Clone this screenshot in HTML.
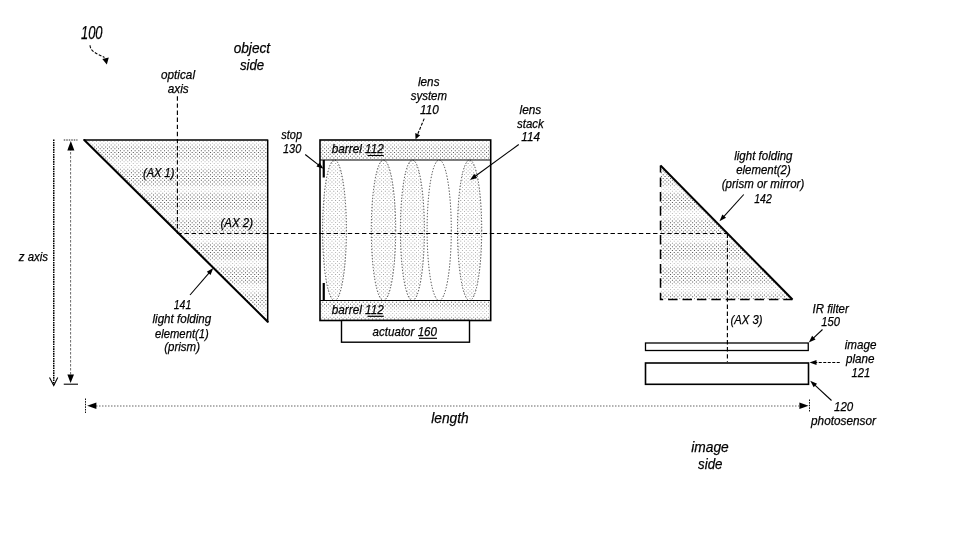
<!DOCTYPE html>
<html><head><meta charset="utf-8"><title>Folded camera diagram</title>
<style>
html,body{margin:0;padding:0;background:#fff;}
body{width:959px;height:536px;overflow:hidden;}
svg{display:block;will-change:transform;}
text{font-family:"Liberation Sans",sans-serif;font-style:italic;fill:#000;}
</style></head><body>
<svg width="959" height="536" viewBox="0 0 959 536">
<defs>
<pattern id="dots" width="92" height="74" patternUnits="userSpaceOnUse"><rect width="92" height="74" fill="#fff"/><path fill="#bcbcbc" d="M2.14 13.25h1.0v1.0h-1.0zM5.82 13.25h1.0v1.0h-1.0zM9.50 13.25h1.0v1.0h-1.0zM13.18 13.25h1.0v1.0h-1.0zM16.86 13.25h1.0v1.0h-1.0zM20.54 13.25h1.0v1.0h-1.0zM24.22 13.25h1.0v1.0h-1.0zM27.90 13.25h1.0v1.0h-1.0zM31.58 13.25h1.0v1.0h-1.0zM35.26 13.25h1.0v1.0h-1.0zM38.94 13.25h1.0v1.0h-1.0zM42.62 13.25h1.0v1.0h-1.0zM46.30 13.25h1.0v1.0h-1.0zM49.98 13.25h1.0v1.0h-1.0zM53.66 13.25h1.0v1.0h-1.0zM57.34 13.25h1.0v1.0h-1.0zM61.02 13.25h1.0v1.0h-1.0zM64.70 13.25h1.0v1.0h-1.0zM68.38 13.25h1.0v1.0h-1.0zM72.06 13.25h1.0v1.0h-1.0zM75.74 13.25h1.0v1.0h-1.0zM79.42 13.25h1.0v1.0h-1.0zM83.10 13.25h1.0v1.0h-1.0zM86.78 13.25h1.0v1.0h-1.0zM90.46 13.25h1.0v1.0h-1.0zM0.30 15.10h1.0v1.0h-1.0zM3.98 15.10h1.0v1.0h-1.0zM7.66 15.10h1.0v1.0h-1.0zM11.34 15.10h1.0v1.0h-1.0zM15.02 15.10h1.0v1.0h-1.0zM18.70 15.10h1.0v1.0h-1.0zM22.38 15.10h1.0v1.0h-1.0zM26.06 15.10h1.0v1.0h-1.0zM29.74 15.10h1.0v1.0h-1.0zM33.42 15.10h1.0v1.0h-1.0zM37.10 15.10h1.0v1.0h-1.0zM40.78 15.10h1.0v1.0h-1.0zM44.46 15.10h1.0v1.0h-1.0zM48.14 15.10h1.0v1.0h-1.0zM51.82 15.10h1.0v1.0h-1.0zM55.50 15.10h1.0v1.0h-1.0zM59.18 15.10h1.0v1.0h-1.0zM62.86 15.10h1.0v1.0h-1.0zM66.54 15.10h1.0v1.0h-1.0zM70.22 15.10h1.0v1.0h-1.0zM73.90 15.10h1.0v1.0h-1.0zM77.58 15.10h1.0v1.0h-1.0zM81.26 15.10h1.0v1.0h-1.0zM84.94 15.10h1.0v1.0h-1.0zM88.62 15.10h1.0v1.0h-1.0zM2.14 16.95h1.0v1.0h-1.0zM5.82 16.95h1.0v1.0h-1.0zM9.50 16.95h1.0v1.0h-1.0zM13.18 16.95h1.0v1.0h-1.0zM16.86 16.95h1.0v1.0h-1.0zM20.54 16.95h1.0v1.0h-1.0zM24.22 16.95h1.0v1.0h-1.0zM27.90 16.95h1.0v1.0h-1.0zM31.58 16.95h1.0v1.0h-1.0zM35.26 16.95h1.0v1.0h-1.0zM38.94 16.95h1.0v1.0h-1.0zM42.62 16.95h1.0v1.0h-1.0zM46.30 16.95h1.0v1.0h-1.0zM49.98 16.95h1.0v1.0h-1.0zM53.66 16.95h1.0v1.0h-1.0zM57.34 16.95h1.0v1.0h-1.0zM61.02 16.95h1.0v1.0h-1.0zM64.70 16.95h1.0v1.0h-1.0zM68.38 16.95h1.0v1.0h-1.0zM72.06 16.95h1.0v1.0h-1.0zM75.74 16.95h1.0v1.0h-1.0zM79.42 16.95h1.0v1.0h-1.0zM83.10 16.95h1.0v1.0h-1.0zM86.78 16.95h1.0v1.0h-1.0zM90.46 16.95h1.0v1.0h-1.0zM0.30 18.80h1.0v1.0h-1.0zM3.98 18.80h1.0v1.0h-1.0zM7.66 18.80h1.0v1.0h-1.0zM11.34 18.80h1.0v1.0h-1.0zM15.02 18.80h1.0v1.0h-1.0zM18.70 18.80h1.0v1.0h-1.0zM22.38 18.80h1.0v1.0h-1.0zM26.06 18.80h1.0v1.0h-1.0zM29.74 18.80h1.0v1.0h-1.0zM33.42 18.80h1.0v1.0h-1.0zM37.10 18.80h1.0v1.0h-1.0zM40.78 18.80h1.0v1.0h-1.0zM44.46 18.80h1.0v1.0h-1.0zM48.14 18.80h1.0v1.0h-1.0zM51.82 18.80h1.0v1.0h-1.0zM55.50 18.80h1.0v1.0h-1.0zM59.18 18.80h1.0v1.0h-1.0zM62.86 18.80h1.0v1.0h-1.0zM66.54 18.80h1.0v1.0h-1.0zM70.22 18.80h1.0v1.0h-1.0zM73.90 18.80h1.0v1.0h-1.0zM77.58 18.80h1.0v1.0h-1.0zM81.26 18.80h1.0v1.0h-1.0zM84.94 18.80h1.0v1.0h-1.0zM88.62 18.80h1.0v1.0h-1.0zM2.14 39.15h1.0v1.0h-1.0zM5.82 39.15h1.0v1.0h-1.0zM9.50 39.15h1.0v1.0h-1.0zM13.18 39.15h1.0v1.0h-1.0zM16.86 39.15h1.0v1.0h-1.0zM20.54 39.15h1.0v1.0h-1.0zM24.22 39.15h1.0v1.0h-1.0zM27.90 39.15h1.0v1.0h-1.0zM31.58 39.15h1.0v1.0h-1.0zM35.26 39.15h1.0v1.0h-1.0zM38.94 39.15h1.0v1.0h-1.0zM42.62 39.15h1.0v1.0h-1.0zM46.30 39.15h1.0v1.0h-1.0zM49.98 39.15h1.0v1.0h-1.0zM53.66 39.15h1.0v1.0h-1.0zM57.34 39.15h1.0v1.0h-1.0zM61.02 39.15h1.0v1.0h-1.0zM64.70 39.15h1.0v1.0h-1.0zM68.38 39.15h1.0v1.0h-1.0zM72.06 39.15h1.0v1.0h-1.0zM75.74 39.15h1.0v1.0h-1.0zM79.42 39.15h1.0v1.0h-1.0zM83.10 39.15h1.0v1.0h-1.0zM86.78 39.15h1.0v1.0h-1.0zM90.46 39.15h1.0v1.0h-1.0zM0.30 41.00h1.0v1.0h-1.0zM3.98 41.00h1.0v1.0h-1.0zM7.66 41.00h1.0v1.0h-1.0zM11.34 41.00h1.0v1.0h-1.0zM15.02 41.00h1.0v1.0h-1.0zM18.70 41.00h1.0v1.0h-1.0zM22.38 41.00h1.0v1.0h-1.0zM26.06 41.00h1.0v1.0h-1.0zM29.74 41.00h1.0v1.0h-1.0zM33.42 41.00h1.0v1.0h-1.0zM37.10 41.00h1.0v1.0h-1.0zM40.78 41.00h1.0v1.0h-1.0zM44.46 41.00h1.0v1.0h-1.0zM48.14 41.00h1.0v1.0h-1.0zM51.82 41.00h1.0v1.0h-1.0zM55.50 41.00h1.0v1.0h-1.0zM59.18 41.00h1.0v1.0h-1.0zM62.86 41.00h1.0v1.0h-1.0zM66.54 41.00h1.0v1.0h-1.0zM70.22 41.00h1.0v1.0h-1.0zM73.90 41.00h1.0v1.0h-1.0zM77.58 41.00h1.0v1.0h-1.0zM81.26 41.00h1.0v1.0h-1.0zM84.94 41.00h1.0v1.0h-1.0zM88.62 41.00h1.0v1.0h-1.0zM2.14 42.85h1.0v1.0h-1.0zM5.82 42.85h1.0v1.0h-1.0zM9.50 42.85h1.0v1.0h-1.0zM13.18 42.85h1.0v1.0h-1.0zM16.86 42.85h1.0v1.0h-1.0zM20.54 42.85h1.0v1.0h-1.0zM24.22 42.85h1.0v1.0h-1.0zM27.90 42.85h1.0v1.0h-1.0zM31.58 42.85h1.0v1.0h-1.0zM35.26 42.85h1.0v1.0h-1.0zM38.94 42.85h1.0v1.0h-1.0zM42.62 42.85h1.0v1.0h-1.0zM46.30 42.85h1.0v1.0h-1.0zM49.98 42.85h1.0v1.0h-1.0zM53.66 42.85h1.0v1.0h-1.0zM57.34 42.85h1.0v1.0h-1.0zM61.02 42.85h1.0v1.0h-1.0zM64.70 42.85h1.0v1.0h-1.0zM68.38 42.85h1.0v1.0h-1.0zM72.06 42.85h1.0v1.0h-1.0zM75.74 42.85h1.0v1.0h-1.0zM79.42 42.85h1.0v1.0h-1.0zM83.10 42.85h1.0v1.0h-1.0zM86.78 42.85h1.0v1.0h-1.0zM90.46 42.85h1.0v1.0h-1.0zM0.30 63.20h1.0v1.0h-1.0zM3.98 63.20h1.0v1.0h-1.0zM7.66 63.20h1.0v1.0h-1.0zM11.34 63.20h1.0v1.0h-1.0zM15.02 63.20h1.0v1.0h-1.0zM18.70 63.20h1.0v1.0h-1.0zM22.38 63.20h1.0v1.0h-1.0zM26.06 63.20h1.0v1.0h-1.0zM29.74 63.20h1.0v1.0h-1.0zM33.42 63.20h1.0v1.0h-1.0zM37.10 63.20h1.0v1.0h-1.0zM40.78 63.20h1.0v1.0h-1.0zM44.46 63.20h1.0v1.0h-1.0zM48.14 63.20h1.0v1.0h-1.0zM51.82 63.20h1.0v1.0h-1.0zM55.50 63.20h1.0v1.0h-1.0zM59.18 63.20h1.0v1.0h-1.0zM62.86 63.20h1.0v1.0h-1.0zM66.54 63.20h1.0v1.0h-1.0zM70.22 63.20h1.0v1.0h-1.0zM73.90 63.20h1.0v1.0h-1.0zM77.58 63.20h1.0v1.0h-1.0zM81.26 63.20h1.0v1.0h-1.0zM84.94 63.20h1.0v1.0h-1.0zM88.62 63.20h1.0v1.0h-1.0zM2.14 65.05h1.0v1.0h-1.0zM5.82 65.05h1.0v1.0h-1.0zM9.50 65.05h1.0v1.0h-1.0zM13.18 65.05h1.0v1.0h-1.0zM16.86 65.05h1.0v1.0h-1.0zM20.54 65.05h1.0v1.0h-1.0zM24.22 65.05h1.0v1.0h-1.0zM27.90 65.05h1.0v1.0h-1.0zM31.58 65.05h1.0v1.0h-1.0zM35.26 65.05h1.0v1.0h-1.0zM38.94 65.05h1.0v1.0h-1.0zM42.62 65.05h1.0v1.0h-1.0zM46.30 65.05h1.0v1.0h-1.0zM49.98 65.05h1.0v1.0h-1.0zM53.66 65.05h1.0v1.0h-1.0zM57.34 65.05h1.0v1.0h-1.0zM61.02 65.05h1.0v1.0h-1.0zM64.70 65.05h1.0v1.0h-1.0zM68.38 65.05h1.0v1.0h-1.0zM72.06 65.05h1.0v1.0h-1.0zM75.74 65.05h1.0v1.0h-1.0zM79.42 65.05h1.0v1.0h-1.0zM83.10 65.05h1.0v1.0h-1.0zM86.78 65.05h1.0v1.0h-1.0zM90.46 65.05h1.0v1.0h-1.0zM0.30 66.90h1.0v1.0h-1.0zM3.98 66.90h1.0v1.0h-1.0zM7.66 66.90h1.0v1.0h-1.0zM11.34 66.90h1.0v1.0h-1.0zM15.02 66.90h1.0v1.0h-1.0zM18.70 66.90h1.0v1.0h-1.0zM22.38 66.90h1.0v1.0h-1.0zM26.06 66.90h1.0v1.0h-1.0zM29.74 66.90h1.0v1.0h-1.0zM33.42 66.90h1.0v1.0h-1.0zM37.10 66.90h1.0v1.0h-1.0zM40.78 66.90h1.0v1.0h-1.0zM44.46 66.90h1.0v1.0h-1.0zM48.14 66.90h1.0v1.0h-1.0zM51.82 66.90h1.0v1.0h-1.0zM55.50 66.90h1.0v1.0h-1.0zM59.18 66.90h1.0v1.0h-1.0zM62.86 66.90h1.0v1.0h-1.0zM66.54 66.90h1.0v1.0h-1.0zM70.22 66.90h1.0v1.0h-1.0zM73.90 66.90h1.0v1.0h-1.0zM77.58 66.90h1.0v1.0h-1.0zM81.26 66.90h1.0v1.0h-1.0zM84.94 66.90h1.0v1.0h-1.0zM88.62 66.90h1.0v1.0h-1.0zM2.14 68.75h1.0v1.0h-1.0zM5.82 68.75h1.0v1.0h-1.0zM9.50 68.75h1.0v1.0h-1.0zM13.18 68.75h1.0v1.0h-1.0zM16.86 68.75h1.0v1.0h-1.0zM20.54 68.75h1.0v1.0h-1.0zM24.22 68.75h1.0v1.0h-1.0zM27.90 68.75h1.0v1.0h-1.0zM31.58 68.75h1.0v1.0h-1.0zM35.26 68.75h1.0v1.0h-1.0zM38.94 68.75h1.0v1.0h-1.0zM42.62 68.75h1.0v1.0h-1.0zM46.30 68.75h1.0v1.0h-1.0zM49.98 68.75h1.0v1.0h-1.0zM53.66 68.75h1.0v1.0h-1.0zM57.34 68.75h1.0v1.0h-1.0zM61.02 68.75h1.0v1.0h-1.0zM64.70 68.75h1.0v1.0h-1.0zM68.38 68.75h1.0v1.0h-1.0zM72.06 68.75h1.0v1.0h-1.0zM75.74 68.75h1.0v1.0h-1.0zM79.42 68.75h1.0v1.0h-1.0zM83.10 68.75h1.0v1.0h-1.0zM86.78 68.75h1.0v1.0h-1.0zM90.46 68.75h1.0v1.0h-1.0z"/><path fill="#8a8a8a" d="M0.30 11.40h1.0v1.0h-1.0zM3.98 11.40h1.0v1.0h-1.0zM7.66 11.40h1.0v1.0h-1.0zM11.34 11.40h1.0v1.0h-1.0zM15.02 11.40h1.0v1.0h-1.0zM18.70 11.40h1.0v1.0h-1.0zM22.38 11.40h1.0v1.0h-1.0zM26.06 11.40h1.0v1.0h-1.0zM29.74 11.40h1.0v1.0h-1.0zM33.42 11.40h1.0v1.0h-1.0zM37.10 11.40h1.0v1.0h-1.0zM40.78 11.40h1.0v1.0h-1.0zM44.46 11.40h1.0v1.0h-1.0zM48.14 11.40h1.0v1.0h-1.0zM51.82 11.40h1.0v1.0h-1.0zM55.50 11.40h1.0v1.0h-1.0zM59.18 11.40h1.0v1.0h-1.0zM62.86 11.40h1.0v1.0h-1.0zM66.54 11.40h1.0v1.0h-1.0zM70.22 11.40h1.0v1.0h-1.0zM73.90 11.40h1.0v1.0h-1.0zM77.58 11.40h1.0v1.0h-1.0zM81.26 11.40h1.0v1.0h-1.0zM84.94 11.40h1.0v1.0h-1.0zM88.62 11.40h1.0v1.0h-1.0zM2.14 20.65h1.0v1.0h-1.0zM5.82 20.65h1.0v1.0h-1.0zM9.50 20.65h1.0v1.0h-1.0zM13.18 20.65h1.0v1.0h-1.0zM16.86 20.65h1.0v1.0h-1.0zM20.54 20.65h1.0v1.0h-1.0zM24.22 20.65h1.0v1.0h-1.0zM27.90 20.65h1.0v1.0h-1.0zM31.58 20.65h1.0v1.0h-1.0zM35.26 20.65h1.0v1.0h-1.0zM38.94 20.65h1.0v1.0h-1.0zM42.62 20.65h1.0v1.0h-1.0zM46.30 20.65h1.0v1.0h-1.0zM49.98 20.65h1.0v1.0h-1.0zM53.66 20.65h1.0v1.0h-1.0zM57.34 20.65h1.0v1.0h-1.0zM61.02 20.65h1.0v1.0h-1.0zM64.70 20.65h1.0v1.0h-1.0zM68.38 20.65h1.0v1.0h-1.0zM72.06 20.65h1.0v1.0h-1.0zM75.74 20.65h1.0v1.0h-1.0zM79.42 20.65h1.0v1.0h-1.0zM83.10 20.65h1.0v1.0h-1.0zM86.78 20.65h1.0v1.0h-1.0zM90.46 20.65h1.0v1.0h-1.0zM0.30 37.30h1.0v1.0h-1.0zM3.98 37.30h1.0v1.0h-1.0zM7.66 37.30h1.0v1.0h-1.0zM11.34 37.30h1.0v1.0h-1.0zM15.02 37.30h1.0v1.0h-1.0zM18.70 37.30h1.0v1.0h-1.0zM22.38 37.30h1.0v1.0h-1.0zM26.06 37.30h1.0v1.0h-1.0zM29.74 37.30h1.0v1.0h-1.0zM33.42 37.30h1.0v1.0h-1.0zM37.10 37.30h1.0v1.0h-1.0zM40.78 37.30h1.0v1.0h-1.0zM44.46 37.30h1.0v1.0h-1.0zM48.14 37.30h1.0v1.0h-1.0zM51.82 37.30h1.0v1.0h-1.0zM55.50 37.30h1.0v1.0h-1.0zM59.18 37.30h1.0v1.0h-1.0zM62.86 37.30h1.0v1.0h-1.0zM66.54 37.30h1.0v1.0h-1.0zM70.22 37.30h1.0v1.0h-1.0zM73.90 37.30h1.0v1.0h-1.0zM77.58 37.30h1.0v1.0h-1.0zM81.26 37.30h1.0v1.0h-1.0zM84.94 37.30h1.0v1.0h-1.0zM88.62 37.30h1.0v1.0h-1.0zM0.30 44.70h1.0v1.0h-1.0zM3.98 44.70h1.0v1.0h-1.0zM7.66 44.70h1.0v1.0h-1.0zM11.34 44.70h1.0v1.0h-1.0zM15.02 44.70h1.0v1.0h-1.0zM18.70 44.70h1.0v1.0h-1.0zM22.38 44.70h1.0v1.0h-1.0zM26.06 44.70h1.0v1.0h-1.0zM29.74 44.70h1.0v1.0h-1.0zM33.42 44.70h1.0v1.0h-1.0zM37.10 44.70h1.0v1.0h-1.0zM40.78 44.70h1.0v1.0h-1.0zM44.46 44.70h1.0v1.0h-1.0zM48.14 44.70h1.0v1.0h-1.0zM51.82 44.70h1.0v1.0h-1.0zM55.50 44.70h1.0v1.0h-1.0zM59.18 44.70h1.0v1.0h-1.0zM62.86 44.70h1.0v1.0h-1.0zM66.54 44.70h1.0v1.0h-1.0zM70.22 44.70h1.0v1.0h-1.0zM73.90 44.70h1.0v1.0h-1.0zM77.58 44.70h1.0v1.0h-1.0zM81.26 44.70h1.0v1.0h-1.0zM84.94 44.70h1.0v1.0h-1.0zM88.62 44.70h1.0v1.0h-1.0zM2.14 61.35h1.0v1.0h-1.0zM5.82 61.35h1.0v1.0h-1.0zM9.50 61.35h1.0v1.0h-1.0zM13.18 61.35h1.0v1.0h-1.0zM16.86 61.35h1.0v1.0h-1.0zM20.54 61.35h1.0v1.0h-1.0zM24.22 61.35h1.0v1.0h-1.0zM27.90 61.35h1.0v1.0h-1.0zM31.58 61.35h1.0v1.0h-1.0zM35.26 61.35h1.0v1.0h-1.0zM38.94 61.35h1.0v1.0h-1.0zM42.62 61.35h1.0v1.0h-1.0zM46.30 61.35h1.0v1.0h-1.0zM49.98 61.35h1.0v1.0h-1.0zM53.66 61.35h1.0v1.0h-1.0zM57.34 61.35h1.0v1.0h-1.0zM61.02 61.35h1.0v1.0h-1.0zM64.70 61.35h1.0v1.0h-1.0zM68.38 61.35h1.0v1.0h-1.0zM72.06 61.35h1.0v1.0h-1.0zM75.74 61.35h1.0v1.0h-1.0zM79.42 61.35h1.0v1.0h-1.0zM83.10 61.35h1.0v1.0h-1.0zM86.78 61.35h1.0v1.0h-1.0zM90.46 61.35h1.0v1.0h-1.0zM0.30 70.60h1.0v1.0h-1.0zM3.98 70.60h1.0v1.0h-1.0zM7.66 70.60h1.0v1.0h-1.0zM11.34 70.60h1.0v1.0h-1.0zM15.02 70.60h1.0v1.0h-1.0zM18.70 70.60h1.0v1.0h-1.0zM22.38 70.60h1.0v1.0h-1.0zM26.06 70.60h1.0v1.0h-1.0zM29.74 70.60h1.0v1.0h-1.0zM33.42 70.60h1.0v1.0h-1.0zM37.10 70.60h1.0v1.0h-1.0zM40.78 70.60h1.0v1.0h-1.0zM44.46 70.60h1.0v1.0h-1.0zM48.14 70.60h1.0v1.0h-1.0zM51.82 70.60h1.0v1.0h-1.0zM55.50 70.60h1.0v1.0h-1.0zM59.18 70.60h1.0v1.0h-1.0zM62.86 70.60h1.0v1.0h-1.0zM66.54 70.60h1.0v1.0h-1.0zM70.22 70.60h1.0v1.0h-1.0zM73.90 70.60h1.0v1.0h-1.0zM77.58 70.60h1.0v1.0h-1.0zM81.26 70.60h1.0v1.0h-1.0zM84.94 70.60h1.0v1.0h-1.0zM88.62 70.60h1.0v1.0h-1.0z"/><path fill="#505050" d="M0.30 0.30h1.0v1.0h-1.0zM3.98 0.30h1.0v1.0h-1.0zM7.66 0.30h1.0v1.0h-1.0zM11.34 0.30h1.0v1.0h-1.0zM15.02 0.30h1.0v1.0h-1.0zM18.70 0.30h1.0v1.0h-1.0zM22.38 0.30h1.0v1.0h-1.0zM26.06 0.30h1.0v1.0h-1.0zM29.74 0.30h1.0v1.0h-1.0zM33.42 0.30h1.0v1.0h-1.0zM37.10 0.30h1.0v1.0h-1.0zM40.78 0.30h1.0v1.0h-1.0zM44.46 0.30h1.0v1.0h-1.0zM48.14 0.30h1.0v1.0h-1.0zM51.82 0.30h1.0v1.0h-1.0zM55.50 0.30h1.0v1.0h-1.0zM59.18 0.30h1.0v1.0h-1.0zM62.86 0.30h1.0v1.0h-1.0zM66.54 0.30h1.0v1.0h-1.0zM70.22 0.30h1.0v1.0h-1.0zM73.90 0.30h1.0v1.0h-1.0zM77.58 0.30h1.0v1.0h-1.0zM81.26 0.30h1.0v1.0h-1.0zM84.94 0.30h1.0v1.0h-1.0zM88.62 0.30h1.0v1.0h-1.0zM2.14 2.15h1.0v1.0h-1.0zM5.82 2.15h1.0v1.0h-1.0zM9.50 2.15h1.0v1.0h-1.0zM13.18 2.15h1.0v1.0h-1.0zM16.86 2.15h1.0v1.0h-1.0zM20.54 2.15h1.0v1.0h-1.0zM24.22 2.15h1.0v1.0h-1.0zM27.90 2.15h1.0v1.0h-1.0zM31.58 2.15h1.0v1.0h-1.0zM35.26 2.15h1.0v1.0h-1.0zM38.94 2.15h1.0v1.0h-1.0zM42.62 2.15h1.0v1.0h-1.0zM46.30 2.15h1.0v1.0h-1.0zM49.98 2.15h1.0v1.0h-1.0zM53.66 2.15h1.0v1.0h-1.0zM57.34 2.15h1.0v1.0h-1.0zM61.02 2.15h1.0v1.0h-1.0zM64.70 2.15h1.0v1.0h-1.0zM68.38 2.15h1.0v1.0h-1.0zM72.06 2.15h1.0v1.0h-1.0zM75.74 2.15h1.0v1.0h-1.0zM79.42 2.15h1.0v1.0h-1.0zM83.10 2.15h1.0v1.0h-1.0zM86.78 2.15h1.0v1.0h-1.0zM90.46 2.15h1.0v1.0h-1.0zM0.30 4.00h1.0v1.0h-1.0zM3.98 4.00h1.0v1.0h-1.0zM7.66 4.00h1.0v1.0h-1.0zM11.34 4.00h1.0v1.0h-1.0zM15.02 4.00h1.0v1.0h-1.0zM18.70 4.00h1.0v1.0h-1.0zM22.38 4.00h1.0v1.0h-1.0zM26.06 4.00h1.0v1.0h-1.0zM29.74 4.00h1.0v1.0h-1.0zM33.42 4.00h1.0v1.0h-1.0zM37.10 4.00h1.0v1.0h-1.0zM40.78 4.00h1.0v1.0h-1.0zM44.46 4.00h1.0v1.0h-1.0zM48.14 4.00h1.0v1.0h-1.0zM51.82 4.00h1.0v1.0h-1.0zM55.50 4.00h1.0v1.0h-1.0zM59.18 4.00h1.0v1.0h-1.0zM62.86 4.00h1.0v1.0h-1.0zM66.54 4.00h1.0v1.0h-1.0zM70.22 4.00h1.0v1.0h-1.0zM73.90 4.00h1.0v1.0h-1.0zM77.58 4.00h1.0v1.0h-1.0zM81.26 4.00h1.0v1.0h-1.0zM84.94 4.00h1.0v1.0h-1.0zM88.62 4.00h1.0v1.0h-1.0zM2.14 5.85h1.0v1.0h-1.0zM5.82 5.85h1.0v1.0h-1.0zM9.50 5.85h1.0v1.0h-1.0zM13.18 5.85h1.0v1.0h-1.0zM16.86 5.85h1.0v1.0h-1.0zM20.54 5.85h1.0v1.0h-1.0zM24.22 5.85h1.0v1.0h-1.0zM27.90 5.85h1.0v1.0h-1.0zM31.58 5.85h1.0v1.0h-1.0zM35.26 5.85h1.0v1.0h-1.0zM38.94 5.85h1.0v1.0h-1.0zM42.62 5.85h1.0v1.0h-1.0zM46.30 5.85h1.0v1.0h-1.0zM49.98 5.85h1.0v1.0h-1.0zM53.66 5.85h1.0v1.0h-1.0zM57.34 5.85h1.0v1.0h-1.0zM61.02 5.85h1.0v1.0h-1.0zM64.70 5.85h1.0v1.0h-1.0zM68.38 5.85h1.0v1.0h-1.0zM72.06 5.85h1.0v1.0h-1.0zM75.74 5.85h1.0v1.0h-1.0zM79.42 5.85h1.0v1.0h-1.0zM83.10 5.85h1.0v1.0h-1.0zM86.78 5.85h1.0v1.0h-1.0zM90.46 5.85h1.0v1.0h-1.0zM0.30 7.70h1.0v1.0h-1.0zM3.98 7.70h1.0v1.0h-1.0zM7.66 7.70h1.0v1.0h-1.0zM11.34 7.70h1.0v1.0h-1.0zM15.02 7.70h1.0v1.0h-1.0zM18.70 7.70h1.0v1.0h-1.0zM22.38 7.70h1.0v1.0h-1.0zM26.06 7.70h1.0v1.0h-1.0zM29.74 7.70h1.0v1.0h-1.0zM33.42 7.70h1.0v1.0h-1.0zM37.10 7.70h1.0v1.0h-1.0zM40.78 7.70h1.0v1.0h-1.0zM44.46 7.70h1.0v1.0h-1.0zM48.14 7.70h1.0v1.0h-1.0zM51.82 7.70h1.0v1.0h-1.0zM55.50 7.70h1.0v1.0h-1.0zM59.18 7.70h1.0v1.0h-1.0zM62.86 7.70h1.0v1.0h-1.0zM66.54 7.70h1.0v1.0h-1.0zM70.22 7.70h1.0v1.0h-1.0zM73.90 7.70h1.0v1.0h-1.0zM77.58 7.70h1.0v1.0h-1.0zM81.26 7.70h1.0v1.0h-1.0zM84.94 7.70h1.0v1.0h-1.0zM88.62 7.70h1.0v1.0h-1.0zM2.14 9.55h1.0v1.0h-1.0zM5.82 9.55h1.0v1.0h-1.0zM9.50 9.55h1.0v1.0h-1.0zM13.18 9.55h1.0v1.0h-1.0zM16.86 9.55h1.0v1.0h-1.0zM20.54 9.55h1.0v1.0h-1.0zM24.22 9.55h1.0v1.0h-1.0zM27.90 9.55h1.0v1.0h-1.0zM31.58 9.55h1.0v1.0h-1.0zM35.26 9.55h1.0v1.0h-1.0zM38.94 9.55h1.0v1.0h-1.0zM42.62 9.55h1.0v1.0h-1.0zM46.30 9.55h1.0v1.0h-1.0zM49.98 9.55h1.0v1.0h-1.0zM53.66 9.55h1.0v1.0h-1.0zM57.34 9.55h1.0v1.0h-1.0zM61.02 9.55h1.0v1.0h-1.0zM64.70 9.55h1.0v1.0h-1.0zM68.38 9.55h1.0v1.0h-1.0zM72.06 9.55h1.0v1.0h-1.0zM75.74 9.55h1.0v1.0h-1.0zM79.42 9.55h1.0v1.0h-1.0zM83.10 9.55h1.0v1.0h-1.0zM86.78 9.55h1.0v1.0h-1.0zM90.46 9.55h1.0v1.0h-1.0zM0.30 22.50h1.0v1.0h-1.0zM3.98 22.50h1.0v1.0h-1.0zM7.66 22.50h1.0v1.0h-1.0zM11.34 22.50h1.0v1.0h-1.0zM15.02 22.50h1.0v1.0h-1.0zM18.70 22.50h1.0v1.0h-1.0zM22.38 22.50h1.0v1.0h-1.0zM26.06 22.50h1.0v1.0h-1.0zM29.74 22.50h1.0v1.0h-1.0zM33.42 22.50h1.0v1.0h-1.0zM37.10 22.50h1.0v1.0h-1.0zM40.78 22.50h1.0v1.0h-1.0zM44.46 22.50h1.0v1.0h-1.0zM48.14 22.50h1.0v1.0h-1.0zM51.82 22.50h1.0v1.0h-1.0zM55.50 22.50h1.0v1.0h-1.0zM59.18 22.50h1.0v1.0h-1.0zM62.86 22.50h1.0v1.0h-1.0zM66.54 22.50h1.0v1.0h-1.0zM70.22 22.50h1.0v1.0h-1.0zM73.90 22.50h1.0v1.0h-1.0zM77.58 22.50h1.0v1.0h-1.0zM81.26 22.50h1.0v1.0h-1.0zM84.94 22.50h1.0v1.0h-1.0zM88.62 22.50h1.0v1.0h-1.0zM2.14 24.35h1.0v1.0h-1.0zM5.82 24.35h1.0v1.0h-1.0zM9.50 24.35h1.0v1.0h-1.0zM13.18 24.35h1.0v1.0h-1.0zM16.86 24.35h1.0v1.0h-1.0zM20.54 24.35h1.0v1.0h-1.0zM24.22 24.35h1.0v1.0h-1.0zM27.90 24.35h1.0v1.0h-1.0zM31.58 24.35h1.0v1.0h-1.0zM35.26 24.35h1.0v1.0h-1.0zM38.94 24.35h1.0v1.0h-1.0zM42.62 24.35h1.0v1.0h-1.0zM46.30 24.35h1.0v1.0h-1.0zM49.98 24.35h1.0v1.0h-1.0zM53.66 24.35h1.0v1.0h-1.0zM57.34 24.35h1.0v1.0h-1.0zM61.02 24.35h1.0v1.0h-1.0zM64.70 24.35h1.0v1.0h-1.0zM68.38 24.35h1.0v1.0h-1.0zM72.06 24.35h1.0v1.0h-1.0zM75.74 24.35h1.0v1.0h-1.0zM79.42 24.35h1.0v1.0h-1.0zM83.10 24.35h1.0v1.0h-1.0zM86.78 24.35h1.0v1.0h-1.0zM90.46 24.35h1.0v1.0h-1.0zM0.30 26.20h1.0v1.0h-1.0zM3.98 26.20h1.0v1.0h-1.0zM7.66 26.20h1.0v1.0h-1.0zM11.34 26.20h1.0v1.0h-1.0zM15.02 26.20h1.0v1.0h-1.0zM18.70 26.20h1.0v1.0h-1.0zM22.38 26.20h1.0v1.0h-1.0zM26.06 26.20h1.0v1.0h-1.0zM29.74 26.20h1.0v1.0h-1.0zM33.42 26.20h1.0v1.0h-1.0zM37.10 26.20h1.0v1.0h-1.0zM40.78 26.20h1.0v1.0h-1.0zM44.46 26.20h1.0v1.0h-1.0zM48.14 26.20h1.0v1.0h-1.0zM51.82 26.20h1.0v1.0h-1.0zM55.50 26.20h1.0v1.0h-1.0zM59.18 26.20h1.0v1.0h-1.0zM62.86 26.20h1.0v1.0h-1.0zM66.54 26.20h1.0v1.0h-1.0zM70.22 26.20h1.0v1.0h-1.0zM73.90 26.20h1.0v1.0h-1.0zM77.58 26.20h1.0v1.0h-1.0zM81.26 26.20h1.0v1.0h-1.0zM84.94 26.20h1.0v1.0h-1.0zM88.62 26.20h1.0v1.0h-1.0zM2.14 28.05h1.0v1.0h-1.0zM5.82 28.05h1.0v1.0h-1.0zM9.50 28.05h1.0v1.0h-1.0zM13.18 28.05h1.0v1.0h-1.0zM16.86 28.05h1.0v1.0h-1.0zM20.54 28.05h1.0v1.0h-1.0zM24.22 28.05h1.0v1.0h-1.0zM27.90 28.05h1.0v1.0h-1.0zM31.58 28.05h1.0v1.0h-1.0zM35.26 28.05h1.0v1.0h-1.0zM38.94 28.05h1.0v1.0h-1.0zM42.62 28.05h1.0v1.0h-1.0zM46.30 28.05h1.0v1.0h-1.0zM49.98 28.05h1.0v1.0h-1.0zM53.66 28.05h1.0v1.0h-1.0zM57.34 28.05h1.0v1.0h-1.0zM61.02 28.05h1.0v1.0h-1.0zM64.70 28.05h1.0v1.0h-1.0zM68.38 28.05h1.0v1.0h-1.0zM72.06 28.05h1.0v1.0h-1.0zM75.74 28.05h1.0v1.0h-1.0zM79.42 28.05h1.0v1.0h-1.0zM83.10 28.05h1.0v1.0h-1.0zM86.78 28.05h1.0v1.0h-1.0zM90.46 28.05h1.0v1.0h-1.0zM0.30 29.90h1.0v1.0h-1.0zM3.98 29.90h1.0v1.0h-1.0zM7.66 29.90h1.0v1.0h-1.0zM11.34 29.90h1.0v1.0h-1.0zM15.02 29.90h1.0v1.0h-1.0zM18.70 29.90h1.0v1.0h-1.0zM22.38 29.90h1.0v1.0h-1.0zM26.06 29.90h1.0v1.0h-1.0zM29.74 29.90h1.0v1.0h-1.0zM33.42 29.90h1.0v1.0h-1.0zM37.10 29.90h1.0v1.0h-1.0zM40.78 29.90h1.0v1.0h-1.0zM44.46 29.90h1.0v1.0h-1.0zM48.14 29.90h1.0v1.0h-1.0zM51.82 29.90h1.0v1.0h-1.0zM55.50 29.90h1.0v1.0h-1.0zM59.18 29.90h1.0v1.0h-1.0zM62.86 29.90h1.0v1.0h-1.0zM66.54 29.90h1.0v1.0h-1.0zM70.22 29.90h1.0v1.0h-1.0zM73.90 29.90h1.0v1.0h-1.0zM77.58 29.90h1.0v1.0h-1.0zM81.26 29.90h1.0v1.0h-1.0zM84.94 29.90h1.0v1.0h-1.0zM88.62 29.90h1.0v1.0h-1.0zM2.14 31.75h1.0v1.0h-1.0zM5.82 31.75h1.0v1.0h-1.0zM9.50 31.75h1.0v1.0h-1.0zM13.18 31.75h1.0v1.0h-1.0zM16.86 31.75h1.0v1.0h-1.0zM20.54 31.75h1.0v1.0h-1.0zM24.22 31.75h1.0v1.0h-1.0zM27.90 31.75h1.0v1.0h-1.0zM31.58 31.75h1.0v1.0h-1.0zM35.26 31.75h1.0v1.0h-1.0zM38.94 31.75h1.0v1.0h-1.0zM42.62 31.75h1.0v1.0h-1.0zM46.30 31.75h1.0v1.0h-1.0zM49.98 31.75h1.0v1.0h-1.0zM53.66 31.75h1.0v1.0h-1.0zM57.34 31.75h1.0v1.0h-1.0zM61.02 31.75h1.0v1.0h-1.0zM64.70 31.75h1.0v1.0h-1.0zM68.38 31.75h1.0v1.0h-1.0zM72.06 31.75h1.0v1.0h-1.0zM75.74 31.75h1.0v1.0h-1.0zM79.42 31.75h1.0v1.0h-1.0zM83.10 31.75h1.0v1.0h-1.0zM86.78 31.75h1.0v1.0h-1.0zM90.46 31.75h1.0v1.0h-1.0zM0.30 33.60h1.0v1.0h-1.0zM3.98 33.60h1.0v1.0h-1.0zM7.66 33.60h1.0v1.0h-1.0zM11.34 33.60h1.0v1.0h-1.0zM15.02 33.60h1.0v1.0h-1.0zM18.70 33.60h1.0v1.0h-1.0zM22.38 33.60h1.0v1.0h-1.0zM26.06 33.60h1.0v1.0h-1.0zM29.74 33.60h1.0v1.0h-1.0zM33.42 33.60h1.0v1.0h-1.0zM37.10 33.60h1.0v1.0h-1.0zM40.78 33.60h1.0v1.0h-1.0zM44.46 33.60h1.0v1.0h-1.0zM48.14 33.60h1.0v1.0h-1.0zM51.82 33.60h1.0v1.0h-1.0zM55.50 33.60h1.0v1.0h-1.0zM59.18 33.60h1.0v1.0h-1.0zM62.86 33.60h1.0v1.0h-1.0zM66.54 33.60h1.0v1.0h-1.0zM70.22 33.60h1.0v1.0h-1.0zM73.90 33.60h1.0v1.0h-1.0zM77.58 33.60h1.0v1.0h-1.0zM81.26 33.60h1.0v1.0h-1.0zM84.94 33.60h1.0v1.0h-1.0zM88.62 33.60h1.0v1.0h-1.0zM2.14 35.45h1.0v1.0h-1.0zM5.82 35.45h1.0v1.0h-1.0zM9.50 35.45h1.0v1.0h-1.0zM13.18 35.45h1.0v1.0h-1.0zM16.86 35.45h1.0v1.0h-1.0zM20.54 35.45h1.0v1.0h-1.0zM24.22 35.45h1.0v1.0h-1.0zM27.90 35.45h1.0v1.0h-1.0zM31.58 35.45h1.0v1.0h-1.0zM35.26 35.45h1.0v1.0h-1.0zM38.94 35.45h1.0v1.0h-1.0zM42.62 35.45h1.0v1.0h-1.0zM46.30 35.45h1.0v1.0h-1.0zM49.98 35.45h1.0v1.0h-1.0zM53.66 35.45h1.0v1.0h-1.0zM57.34 35.45h1.0v1.0h-1.0zM61.02 35.45h1.0v1.0h-1.0zM64.70 35.45h1.0v1.0h-1.0zM68.38 35.45h1.0v1.0h-1.0zM72.06 35.45h1.0v1.0h-1.0zM75.74 35.45h1.0v1.0h-1.0zM79.42 35.45h1.0v1.0h-1.0zM83.10 35.45h1.0v1.0h-1.0zM86.78 35.45h1.0v1.0h-1.0zM90.46 35.45h1.0v1.0h-1.0zM2.14 46.55h1.0v1.0h-1.0zM5.82 46.55h1.0v1.0h-1.0zM9.50 46.55h1.0v1.0h-1.0zM13.18 46.55h1.0v1.0h-1.0zM16.86 46.55h1.0v1.0h-1.0zM20.54 46.55h1.0v1.0h-1.0zM24.22 46.55h1.0v1.0h-1.0zM27.90 46.55h1.0v1.0h-1.0zM31.58 46.55h1.0v1.0h-1.0zM35.26 46.55h1.0v1.0h-1.0zM38.94 46.55h1.0v1.0h-1.0zM42.62 46.55h1.0v1.0h-1.0zM46.30 46.55h1.0v1.0h-1.0zM49.98 46.55h1.0v1.0h-1.0zM53.66 46.55h1.0v1.0h-1.0zM57.34 46.55h1.0v1.0h-1.0zM61.02 46.55h1.0v1.0h-1.0zM64.70 46.55h1.0v1.0h-1.0zM68.38 46.55h1.0v1.0h-1.0zM72.06 46.55h1.0v1.0h-1.0zM75.74 46.55h1.0v1.0h-1.0zM79.42 46.55h1.0v1.0h-1.0zM83.10 46.55h1.0v1.0h-1.0zM86.78 46.55h1.0v1.0h-1.0zM90.46 46.55h1.0v1.0h-1.0zM0.30 48.40h1.0v1.0h-1.0zM3.98 48.40h1.0v1.0h-1.0zM7.66 48.40h1.0v1.0h-1.0zM11.34 48.40h1.0v1.0h-1.0zM15.02 48.40h1.0v1.0h-1.0zM18.70 48.40h1.0v1.0h-1.0zM22.38 48.40h1.0v1.0h-1.0zM26.06 48.40h1.0v1.0h-1.0zM29.74 48.40h1.0v1.0h-1.0zM33.42 48.40h1.0v1.0h-1.0zM37.10 48.40h1.0v1.0h-1.0zM40.78 48.40h1.0v1.0h-1.0zM44.46 48.40h1.0v1.0h-1.0zM48.14 48.40h1.0v1.0h-1.0zM51.82 48.40h1.0v1.0h-1.0zM55.50 48.40h1.0v1.0h-1.0zM59.18 48.40h1.0v1.0h-1.0zM62.86 48.40h1.0v1.0h-1.0zM66.54 48.40h1.0v1.0h-1.0zM70.22 48.40h1.0v1.0h-1.0zM73.90 48.40h1.0v1.0h-1.0zM77.58 48.40h1.0v1.0h-1.0zM81.26 48.40h1.0v1.0h-1.0zM84.94 48.40h1.0v1.0h-1.0zM88.62 48.40h1.0v1.0h-1.0zM2.14 50.25h1.0v1.0h-1.0zM5.82 50.25h1.0v1.0h-1.0zM9.50 50.25h1.0v1.0h-1.0zM13.18 50.25h1.0v1.0h-1.0zM16.86 50.25h1.0v1.0h-1.0zM20.54 50.25h1.0v1.0h-1.0zM24.22 50.25h1.0v1.0h-1.0zM27.90 50.25h1.0v1.0h-1.0zM31.58 50.25h1.0v1.0h-1.0zM35.26 50.25h1.0v1.0h-1.0zM38.94 50.25h1.0v1.0h-1.0zM42.62 50.25h1.0v1.0h-1.0zM46.30 50.25h1.0v1.0h-1.0zM49.98 50.25h1.0v1.0h-1.0zM53.66 50.25h1.0v1.0h-1.0zM57.34 50.25h1.0v1.0h-1.0zM61.02 50.25h1.0v1.0h-1.0zM64.70 50.25h1.0v1.0h-1.0zM68.38 50.25h1.0v1.0h-1.0zM72.06 50.25h1.0v1.0h-1.0zM75.74 50.25h1.0v1.0h-1.0zM79.42 50.25h1.0v1.0h-1.0zM83.10 50.25h1.0v1.0h-1.0zM86.78 50.25h1.0v1.0h-1.0zM90.46 50.25h1.0v1.0h-1.0zM0.30 52.10h1.0v1.0h-1.0zM3.98 52.10h1.0v1.0h-1.0zM7.66 52.10h1.0v1.0h-1.0zM11.34 52.10h1.0v1.0h-1.0zM15.02 52.10h1.0v1.0h-1.0zM18.70 52.10h1.0v1.0h-1.0zM22.38 52.10h1.0v1.0h-1.0zM26.06 52.10h1.0v1.0h-1.0zM29.74 52.10h1.0v1.0h-1.0zM33.42 52.10h1.0v1.0h-1.0zM37.10 52.10h1.0v1.0h-1.0zM40.78 52.10h1.0v1.0h-1.0zM44.46 52.10h1.0v1.0h-1.0zM48.14 52.10h1.0v1.0h-1.0zM51.82 52.10h1.0v1.0h-1.0zM55.50 52.10h1.0v1.0h-1.0zM59.18 52.10h1.0v1.0h-1.0zM62.86 52.10h1.0v1.0h-1.0zM66.54 52.10h1.0v1.0h-1.0zM70.22 52.10h1.0v1.0h-1.0zM73.90 52.10h1.0v1.0h-1.0zM77.58 52.10h1.0v1.0h-1.0zM81.26 52.10h1.0v1.0h-1.0zM84.94 52.10h1.0v1.0h-1.0zM88.62 52.10h1.0v1.0h-1.0zM2.14 53.95h1.0v1.0h-1.0zM5.82 53.95h1.0v1.0h-1.0zM9.50 53.95h1.0v1.0h-1.0zM13.18 53.95h1.0v1.0h-1.0zM16.86 53.95h1.0v1.0h-1.0zM20.54 53.95h1.0v1.0h-1.0zM24.22 53.95h1.0v1.0h-1.0zM27.90 53.95h1.0v1.0h-1.0zM31.58 53.95h1.0v1.0h-1.0zM35.26 53.95h1.0v1.0h-1.0zM38.94 53.95h1.0v1.0h-1.0zM42.62 53.95h1.0v1.0h-1.0zM46.30 53.95h1.0v1.0h-1.0zM49.98 53.95h1.0v1.0h-1.0zM53.66 53.95h1.0v1.0h-1.0zM57.34 53.95h1.0v1.0h-1.0zM61.02 53.95h1.0v1.0h-1.0zM64.70 53.95h1.0v1.0h-1.0zM68.38 53.95h1.0v1.0h-1.0zM72.06 53.95h1.0v1.0h-1.0zM75.74 53.95h1.0v1.0h-1.0zM79.42 53.95h1.0v1.0h-1.0zM83.10 53.95h1.0v1.0h-1.0zM86.78 53.95h1.0v1.0h-1.0zM90.46 53.95h1.0v1.0h-1.0zM0.30 55.80h1.0v1.0h-1.0zM3.98 55.80h1.0v1.0h-1.0zM7.66 55.80h1.0v1.0h-1.0zM11.34 55.80h1.0v1.0h-1.0zM15.02 55.80h1.0v1.0h-1.0zM18.70 55.80h1.0v1.0h-1.0zM22.38 55.80h1.0v1.0h-1.0zM26.06 55.80h1.0v1.0h-1.0zM29.74 55.80h1.0v1.0h-1.0zM33.42 55.80h1.0v1.0h-1.0zM37.10 55.80h1.0v1.0h-1.0zM40.78 55.80h1.0v1.0h-1.0zM44.46 55.80h1.0v1.0h-1.0zM48.14 55.80h1.0v1.0h-1.0zM51.82 55.80h1.0v1.0h-1.0zM55.50 55.80h1.0v1.0h-1.0zM59.18 55.80h1.0v1.0h-1.0zM62.86 55.80h1.0v1.0h-1.0zM66.54 55.80h1.0v1.0h-1.0zM70.22 55.80h1.0v1.0h-1.0zM73.90 55.80h1.0v1.0h-1.0zM77.58 55.80h1.0v1.0h-1.0zM81.26 55.80h1.0v1.0h-1.0zM84.94 55.80h1.0v1.0h-1.0zM88.62 55.80h1.0v1.0h-1.0zM2.14 57.65h1.0v1.0h-1.0zM5.82 57.65h1.0v1.0h-1.0zM9.50 57.65h1.0v1.0h-1.0zM13.18 57.65h1.0v1.0h-1.0zM16.86 57.65h1.0v1.0h-1.0zM20.54 57.65h1.0v1.0h-1.0zM24.22 57.65h1.0v1.0h-1.0zM27.90 57.65h1.0v1.0h-1.0zM31.58 57.65h1.0v1.0h-1.0zM35.26 57.65h1.0v1.0h-1.0zM38.94 57.65h1.0v1.0h-1.0zM42.62 57.65h1.0v1.0h-1.0zM46.30 57.65h1.0v1.0h-1.0zM49.98 57.65h1.0v1.0h-1.0zM53.66 57.65h1.0v1.0h-1.0zM57.34 57.65h1.0v1.0h-1.0zM61.02 57.65h1.0v1.0h-1.0zM64.70 57.65h1.0v1.0h-1.0zM68.38 57.65h1.0v1.0h-1.0zM72.06 57.65h1.0v1.0h-1.0zM75.74 57.65h1.0v1.0h-1.0zM79.42 57.65h1.0v1.0h-1.0zM83.10 57.65h1.0v1.0h-1.0zM86.78 57.65h1.0v1.0h-1.0zM90.46 57.65h1.0v1.0h-1.0zM0.30 59.50h1.0v1.0h-1.0zM3.98 59.50h1.0v1.0h-1.0zM7.66 59.50h1.0v1.0h-1.0zM11.34 59.50h1.0v1.0h-1.0zM15.02 59.50h1.0v1.0h-1.0zM18.70 59.50h1.0v1.0h-1.0zM22.38 59.50h1.0v1.0h-1.0zM26.06 59.50h1.0v1.0h-1.0zM29.74 59.50h1.0v1.0h-1.0zM33.42 59.50h1.0v1.0h-1.0zM37.10 59.50h1.0v1.0h-1.0zM40.78 59.50h1.0v1.0h-1.0zM44.46 59.50h1.0v1.0h-1.0zM48.14 59.50h1.0v1.0h-1.0zM51.82 59.50h1.0v1.0h-1.0zM55.50 59.50h1.0v1.0h-1.0zM59.18 59.50h1.0v1.0h-1.0zM62.86 59.50h1.0v1.0h-1.0zM66.54 59.50h1.0v1.0h-1.0zM70.22 59.50h1.0v1.0h-1.0zM73.90 59.50h1.0v1.0h-1.0zM77.58 59.50h1.0v1.0h-1.0zM81.26 59.50h1.0v1.0h-1.0zM84.94 59.50h1.0v1.0h-1.0zM88.62 59.50h1.0v1.0h-1.0zM2.14 72.45h1.0v1.0h-1.0zM5.82 72.45h1.0v1.0h-1.0zM9.50 72.45h1.0v1.0h-1.0zM13.18 72.45h1.0v1.0h-1.0zM16.86 72.45h1.0v1.0h-1.0zM20.54 72.45h1.0v1.0h-1.0zM24.22 72.45h1.0v1.0h-1.0zM27.90 72.45h1.0v1.0h-1.0zM31.58 72.45h1.0v1.0h-1.0zM35.26 72.45h1.0v1.0h-1.0zM38.94 72.45h1.0v1.0h-1.0zM42.62 72.45h1.0v1.0h-1.0zM46.30 72.45h1.0v1.0h-1.0zM49.98 72.45h1.0v1.0h-1.0zM53.66 72.45h1.0v1.0h-1.0zM57.34 72.45h1.0v1.0h-1.0zM61.02 72.45h1.0v1.0h-1.0zM64.70 72.45h1.0v1.0h-1.0zM68.38 72.45h1.0v1.0h-1.0zM72.06 72.45h1.0v1.0h-1.0zM75.74 72.45h1.0v1.0h-1.0zM79.42 72.45h1.0v1.0h-1.0zM83.10 72.45h1.0v1.0h-1.0zM86.78 72.45h1.0v1.0h-1.0zM90.46 72.45h1.0v1.0h-1.0z"/></pattern>
<pattern id="dotsl" width="92" height="74" patternUnits="userSpaceOnUse"><rect width="92" height="74" fill="#fff"/><path fill="#909090" d="M0.30 0.30h0.9v0.8h-0.9zM3.98 0.30h0.9v0.8h-0.9zM7.66 0.30h0.9v0.8h-0.9zM11.34 0.30h0.9v0.8h-0.9zM15.02 0.30h0.9v0.8h-0.9zM18.70 0.30h0.9v0.8h-0.9zM22.38 0.30h0.9v0.8h-0.9zM26.06 0.30h0.9v0.8h-0.9zM29.74 0.30h0.9v0.8h-0.9zM33.42 0.30h0.9v0.8h-0.9zM37.10 0.30h0.9v0.8h-0.9zM40.78 0.30h0.9v0.8h-0.9zM44.46 0.30h0.9v0.8h-0.9zM48.14 0.30h0.9v0.8h-0.9zM51.82 0.30h0.9v0.8h-0.9zM55.50 0.30h0.9v0.8h-0.9zM59.18 0.30h0.9v0.8h-0.9zM62.86 0.30h0.9v0.8h-0.9zM66.54 0.30h0.9v0.8h-0.9zM70.22 0.30h0.9v0.8h-0.9zM73.90 0.30h0.9v0.8h-0.9zM77.58 0.30h0.9v0.8h-0.9zM81.26 0.30h0.9v0.8h-0.9zM84.94 0.30h0.9v0.8h-0.9zM88.62 0.30h0.9v0.8h-0.9zM2.14 2.15h0.9v0.8h-0.9zM5.82 2.15h0.9v0.8h-0.9zM9.50 2.15h0.9v0.8h-0.9zM13.18 2.15h0.9v0.8h-0.9zM16.86 2.15h0.9v0.8h-0.9zM20.54 2.15h0.9v0.8h-0.9zM24.22 2.15h0.9v0.8h-0.9zM27.90 2.15h0.9v0.8h-0.9zM31.58 2.15h0.9v0.8h-0.9zM35.26 2.15h0.9v0.8h-0.9zM38.94 2.15h0.9v0.8h-0.9zM42.62 2.15h0.9v0.8h-0.9zM46.30 2.15h0.9v0.8h-0.9zM49.98 2.15h0.9v0.8h-0.9zM53.66 2.15h0.9v0.8h-0.9zM57.34 2.15h0.9v0.8h-0.9zM61.02 2.15h0.9v0.8h-0.9zM64.70 2.15h0.9v0.8h-0.9zM68.38 2.15h0.9v0.8h-0.9zM72.06 2.15h0.9v0.8h-0.9zM75.74 2.15h0.9v0.8h-0.9zM79.42 2.15h0.9v0.8h-0.9zM83.10 2.15h0.9v0.8h-0.9zM86.78 2.15h0.9v0.8h-0.9zM90.46 2.15h0.9v0.8h-0.9zM0.30 4.00h0.9v0.8h-0.9zM3.98 4.00h0.9v0.8h-0.9zM7.66 4.00h0.9v0.8h-0.9zM11.34 4.00h0.9v0.8h-0.9zM15.02 4.00h0.9v0.8h-0.9zM18.70 4.00h0.9v0.8h-0.9zM22.38 4.00h0.9v0.8h-0.9zM26.06 4.00h0.9v0.8h-0.9zM29.74 4.00h0.9v0.8h-0.9zM33.42 4.00h0.9v0.8h-0.9zM37.10 4.00h0.9v0.8h-0.9zM40.78 4.00h0.9v0.8h-0.9zM44.46 4.00h0.9v0.8h-0.9zM48.14 4.00h0.9v0.8h-0.9zM51.82 4.00h0.9v0.8h-0.9zM55.50 4.00h0.9v0.8h-0.9zM59.18 4.00h0.9v0.8h-0.9zM62.86 4.00h0.9v0.8h-0.9zM66.54 4.00h0.9v0.8h-0.9zM70.22 4.00h0.9v0.8h-0.9zM73.90 4.00h0.9v0.8h-0.9zM77.58 4.00h0.9v0.8h-0.9zM81.26 4.00h0.9v0.8h-0.9zM84.94 4.00h0.9v0.8h-0.9zM88.62 4.00h0.9v0.8h-0.9zM2.14 5.85h0.9v0.8h-0.9zM5.82 5.85h0.9v0.8h-0.9zM9.50 5.85h0.9v0.8h-0.9zM13.18 5.85h0.9v0.8h-0.9zM16.86 5.85h0.9v0.8h-0.9zM20.54 5.85h0.9v0.8h-0.9zM24.22 5.85h0.9v0.8h-0.9zM27.90 5.85h0.9v0.8h-0.9zM31.58 5.85h0.9v0.8h-0.9zM35.26 5.85h0.9v0.8h-0.9zM38.94 5.85h0.9v0.8h-0.9zM42.62 5.85h0.9v0.8h-0.9zM46.30 5.85h0.9v0.8h-0.9zM49.98 5.85h0.9v0.8h-0.9zM53.66 5.85h0.9v0.8h-0.9zM57.34 5.85h0.9v0.8h-0.9zM61.02 5.85h0.9v0.8h-0.9zM64.70 5.85h0.9v0.8h-0.9zM68.38 5.85h0.9v0.8h-0.9zM72.06 5.85h0.9v0.8h-0.9zM75.74 5.85h0.9v0.8h-0.9zM79.42 5.85h0.9v0.8h-0.9zM83.10 5.85h0.9v0.8h-0.9zM86.78 5.85h0.9v0.8h-0.9zM90.46 5.85h0.9v0.8h-0.9zM0.30 7.70h0.9v0.8h-0.9zM3.98 7.70h0.9v0.8h-0.9zM7.66 7.70h0.9v0.8h-0.9zM11.34 7.70h0.9v0.8h-0.9zM15.02 7.70h0.9v0.8h-0.9zM18.70 7.70h0.9v0.8h-0.9zM22.38 7.70h0.9v0.8h-0.9zM26.06 7.70h0.9v0.8h-0.9zM29.74 7.70h0.9v0.8h-0.9zM33.42 7.70h0.9v0.8h-0.9zM37.10 7.70h0.9v0.8h-0.9zM40.78 7.70h0.9v0.8h-0.9zM44.46 7.70h0.9v0.8h-0.9zM48.14 7.70h0.9v0.8h-0.9zM51.82 7.70h0.9v0.8h-0.9zM55.50 7.70h0.9v0.8h-0.9zM59.18 7.70h0.9v0.8h-0.9zM62.86 7.70h0.9v0.8h-0.9zM66.54 7.70h0.9v0.8h-0.9zM70.22 7.70h0.9v0.8h-0.9zM73.90 7.70h0.9v0.8h-0.9zM77.58 7.70h0.9v0.8h-0.9zM81.26 7.70h0.9v0.8h-0.9zM84.94 7.70h0.9v0.8h-0.9zM88.62 7.70h0.9v0.8h-0.9zM2.14 9.55h0.9v0.8h-0.9zM5.82 9.55h0.9v0.8h-0.9zM9.50 9.55h0.9v0.8h-0.9zM13.18 9.55h0.9v0.8h-0.9zM16.86 9.55h0.9v0.8h-0.9zM20.54 9.55h0.9v0.8h-0.9zM24.22 9.55h0.9v0.8h-0.9zM27.90 9.55h0.9v0.8h-0.9zM31.58 9.55h0.9v0.8h-0.9zM35.26 9.55h0.9v0.8h-0.9zM38.94 9.55h0.9v0.8h-0.9zM42.62 9.55h0.9v0.8h-0.9zM46.30 9.55h0.9v0.8h-0.9zM49.98 9.55h0.9v0.8h-0.9zM53.66 9.55h0.9v0.8h-0.9zM57.34 9.55h0.9v0.8h-0.9zM61.02 9.55h0.9v0.8h-0.9zM64.70 9.55h0.9v0.8h-0.9zM68.38 9.55h0.9v0.8h-0.9zM72.06 9.55h0.9v0.8h-0.9zM75.74 9.55h0.9v0.8h-0.9zM79.42 9.55h0.9v0.8h-0.9zM83.10 9.55h0.9v0.8h-0.9zM86.78 9.55h0.9v0.8h-0.9zM90.46 9.55h0.9v0.8h-0.9zM0.30 11.40h0.9v0.8h-0.9zM3.98 11.40h0.9v0.8h-0.9zM7.66 11.40h0.9v0.8h-0.9zM11.34 11.40h0.9v0.8h-0.9zM15.02 11.40h0.9v0.8h-0.9zM18.70 11.40h0.9v0.8h-0.9zM22.38 11.40h0.9v0.8h-0.9zM26.06 11.40h0.9v0.8h-0.9zM29.74 11.40h0.9v0.8h-0.9zM33.42 11.40h0.9v0.8h-0.9zM37.10 11.40h0.9v0.8h-0.9zM40.78 11.40h0.9v0.8h-0.9zM44.46 11.40h0.9v0.8h-0.9zM48.14 11.40h0.9v0.8h-0.9zM51.82 11.40h0.9v0.8h-0.9zM55.50 11.40h0.9v0.8h-0.9zM59.18 11.40h0.9v0.8h-0.9zM62.86 11.40h0.9v0.8h-0.9zM66.54 11.40h0.9v0.8h-0.9zM70.22 11.40h0.9v0.8h-0.9zM73.90 11.40h0.9v0.8h-0.9zM77.58 11.40h0.9v0.8h-0.9zM81.26 11.40h0.9v0.8h-0.9zM84.94 11.40h0.9v0.8h-0.9zM88.62 11.40h0.9v0.8h-0.9zM2.14 13.25h0.9v0.8h-0.9zM5.82 13.25h0.9v0.8h-0.9zM9.50 13.25h0.9v0.8h-0.9zM13.18 13.25h0.9v0.8h-0.9zM16.86 13.25h0.9v0.8h-0.9zM20.54 13.25h0.9v0.8h-0.9zM24.22 13.25h0.9v0.8h-0.9zM27.90 13.25h0.9v0.8h-0.9zM31.58 13.25h0.9v0.8h-0.9zM35.26 13.25h0.9v0.8h-0.9zM38.94 13.25h0.9v0.8h-0.9zM42.62 13.25h0.9v0.8h-0.9zM46.30 13.25h0.9v0.8h-0.9zM49.98 13.25h0.9v0.8h-0.9zM53.66 13.25h0.9v0.8h-0.9zM57.34 13.25h0.9v0.8h-0.9zM61.02 13.25h0.9v0.8h-0.9zM64.70 13.25h0.9v0.8h-0.9zM68.38 13.25h0.9v0.8h-0.9zM72.06 13.25h0.9v0.8h-0.9zM75.74 13.25h0.9v0.8h-0.9zM79.42 13.25h0.9v0.8h-0.9zM83.10 13.25h0.9v0.8h-0.9zM86.78 13.25h0.9v0.8h-0.9zM90.46 13.25h0.9v0.8h-0.9zM0.30 15.10h0.9v0.8h-0.9zM3.98 15.10h0.9v0.8h-0.9zM7.66 15.10h0.9v0.8h-0.9zM11.34 15.10h0.9v0.8h-0.9zM15.02 15.10h0.9v0.8h-0.9zM18.70 15.10h0.9v0.8h-0.9zM22.38 15.10h0.9v0.8h-0.9zM26.06 15.10h0.9v0.8h-0.9zM29.74 15.10h0.9v0.8h-0.9zM33.42 15.10h0.9v0.8h-0.9zM37.10 15.10h0.9v0.8h-0.9zM40.78 15.10h0.9v0.8h-0.9zM44.46 15.10h0.9v0.8h-0.9zM48.14 15.10h0.9v0.8h-0.9zM51.82 15.10h0.9v0.8h-0.9zM55.50 15.10h0.9v0.8h-0.9zM59.18 15.10h0.9v0.8h-0.9zM62.86 15.10h0.9v0.8h-0.9zM66.54 15.10h0.9v0.8h-0.9zM70.22 15.10h0.9v0.8h-0.9zM73.90 15.10h0.9v0.8h-0.9zM77.58 15.10h0.9v0.8h-0.9zM81.26 15.10h0.9v0.8h-0.9zM84.94 15.10h0.9v0.8h-0.9zM88.62 15.10h0.9v0.8h-0.9zM2.14 16.95h0.9v0.8h-0.9zM5.82 16.95h0.9v0.8h-0.9zM9.50 16.95h0.9v0.8h-0.9zM13.18 16.95h0.9v0.8h-0.9zM16.86 16.95h0.9v0.8h-0.9zM20.54 16.95h0.9v0.8h-0.9zM24.22 16.95h0.9v0.8h-0.9zM27.90 16.95h0.9v0.8h-0.9zM31.58 16.95h0.9v0.8h-0.9zM35.26 16.95h0.9v0.8h-0.9zM38.94 16.95h0.9v0.8h-0.9zM42.62 16.95h0.9v0.8h-0.9zM46.30 16.95h0.9v0.8h-0.9zM49.98 16.95h0.9v0.8h-0.9zM53.66 16.95h0.9v0.8h-0.9zM57.34 16.95h0.9v0.8h-0.9zM61.02 16.95h0.9v0.8h-0.9zM64.70 16.95h0.9v0.8h-0.9zM68.38 16.95h0.9v0.8h-0.9zM72.06 16.95h0.9v0.8h-0.9zM75.74 16.95h0.9v0.8h-0.9zM79.42 16.95h0.9v0.8h-0.9zM83.10 16.95h0.9v0.8h-0.9zM86.78 16.95h0.9v0.8h-0.9zM90.46 16.95h0.9v0.8h-0.9zM0.30 18.80h0.9v0.8h-0.9zM3.98 18.80h0.9v0.8h-0.9zM7.66 18.80h0.9v0.8h-0.9zM11.34 18.80h0.9v0.8h-0.9zM15.02 18.80h0.9v0.8h-0.9zM18.70 18.80h0.9v0.8h-0.9zM22.38 18.80h0.9v0.8h-0.9zM26.06 18.80h0.9v0.8h-0.9zM29.74 18.80h0.9v0.8h-0.9zM33.42 18.80h0.9v0.8h-0.9zM37.10 18.80h0.9v0.8h-0.9zM40.78 18.80h0.9v0.8h-0.9zM44.46 18.80h0.9v0.8h-0.9zM48.14 18.80h0.9v0.8h-0.9zM51.82 18.80h0.9v0.8h-0.9zM55.50 18.80h0.9v0.8h-0.9zM59.18 18.80h0.9v0.8h-0.9zM62.86 18.80h0.9v0.8h-0.9zM66.54 18.80h0.9v0.8h-0.9zM70.22 18.80h0.9v0.8h-0.9zM73.90 18.80h0.9v0.8h-0.9zM77.58 18.80h0.9v0.8h-0.9zM81.26 18.80h0.9v0.8h-0.9zM84.94 18.80h0.9v0.8h-0.9zM88.62 18.80h0.9v0.8h-0.9zM2.14 20.65h0.9v0.8h-0.9zM5.82 20.65h0.9v0.8h-0.9zM9.50 20.65h0.9v0.8h-0.9zM13.18 20.65h0.9v0.8h-0.9zM16.86 20.65h0.9v0.8h-0.9zM20.54 20.65h0.9v0.8h-0.9zM24.22 20.65h0.9v0.8h-0.9zM27.90 20.65h0.9v0.8h-0.9zM31.58 20.65h0.9v0.8h-0.9zM35.26 20.65h0.9v0.8h-0.9zM38.94 20.65h0.9v0.8h-0.9zM42.62 20.65h0.9v0.8h-0.9zM46.30 20.65h0.9v0.8h-0.9zM49.98 20.65h0.9v0.8h-0.9zM53.66 20.65h0.9v0.8h-0.9zM57.34 20.65h0.9v0.8h-0.9zM61.02 20.65h0.9v0.8h-0.9zM64.70 20.65h0.9v0.8h-0.9zM68.38 20.65h0.9v0.8h-0.9zM72.06 20.65h0.9v0.8h-0.9zM75.74 20.65h0.9v0.8h-0.9zM79.42 20.65h0.9v0.8h-0.9zM83.10 20.65h0.9v0.8h-0.9zM86.78 20.65h0.9v0.8h-0.9zM90.46 20.65h0.9v0.8h-0.9zM0.30 22.50h0.9v0.8h-0.9zM3.98 22.50h0.9v0.8h-0.9zM7.66 22.50h0.9v0.8h-0.9zM11.34 22.50h0.9v0.8h-0.9zM15.02 22.50h0.9v0.8h-0.9zM18.70 22.50h0.9v0.8h-0.9zM22.38 22.50h0.9v0.8h-0.9zM26.06 22.50h0.9v0.8h-0.9zM29.74 22.50h0.9v0.8h-0.9zM33.42 22.50h0.9v0.8h-0.9zM37.10 22.50h0.9v0.8h-0.9zM40.78 22.50h0.9v0.8h-0.9zM44.46 22.50h0.9v0.8h-0.9zM48.14 22.50h0.9v0.8h-0.9zM51.82 22.50h0.9v0.8h-0.9zM55.50 22.50h0.9v0.8h-0.9zM59.18 22.50h0.9v0.8h-0.9zM62.86 22.50h0.9v0.8h-0.9zM66.54 22.50h0.9v0.8h-0.9zM70.22 22.50h0.9v0.8h-0.9zM73.90 22.50h0.9v0.8h-0.9zM77.58 22.50h0.9v0.8h-0.9zM81.26 22.50h0.9v0.8h-0.9zM84.94 22.50h0.9v0.8h-0.9zM88.62 22.50h0.9v0.8h-0.9zM2.14 24.35h0.9v0.8h-0.9zM5.82 24.35h0.9v0.8h-0.9zM9.50 24.35h0.9v0.8h-0.9zM13.18 24.35h0.9v0.8h-0.9zM16.86 24.35h0.9v0.8h-0.9zM20.54 24.35h0.9v0.8h-0.9zM24.22 24.35h0.9v0.8h-0.9zM27.90 24.35h0.9v0.8h-0.9zM31.58 24.35h0.9v0.8h-0.9zM35.26 24.35h0.9v0.8h-0.9zM38.94 24.35h0.9v0.8h-0.9zM42.62 24.35h0.9v0.8h-0.9zM46.30 24.35h0.9v0.8h-0.9zM49.98 24.35h0.9v0.8h-0.9zM53.66 24.35h0.9v0.8h-0.9zM57.34 24.35h0.9v0.8h-0.9zM61.02 24.35h0.9v0.8h-0.9zM64.70 24.35h0.9v0.8h-0.9zM68.38 24.35h0.9v0.8h-0.9zM72.06 24.35h0.9v0.8h-0.9zM75.74 24.35h0.9v0.8h-0.9zM79.42 24.35h0.9v0.8h-0.9zM83.10 24.35h0.9v0.8h-0.9zM86.78 24.35h0.9v0.8h-0.9zM90.46 24.35h0.9v0.8h-0.9zM0.30 26.20h0.9v0.8h-0.9zM3.98 26.20h0.9v0.8h-0.9zM7.66 26.20h0.9v0.8h-0.9zM11.34 26.20h0.9v0.8h-0.9zM15.02 26.20h0.9v0.8h-0.9zM18.70 26.20h0.9v0.8h-0.9zM22.38 26.20h0.9v0.8h-0.9zM26.06 26.20h0.9v0.8h-0.9zM29.74 26.20h0.9v0.8h-0.9zM33.42 26.20h0.9v0.8h-0.9zM37.10 26.20h0.9v0.8h-0.9zM40.78 26.20h0.9v0.8h-0.9zM44.46 26.20h0.9v0.8h-0.9zM48.14 26.20h0.9v0.8h-0.9zM51.82 26.20h0.9v0.8h-0.9zM55.50 26.20h0.9v0.8h-0.9zM59.18 26.20h0.9v0.8h-0.9zM62.86 26.20h0.9v0.8h-0.9zM66.54 26.20h0.9v0.8h-0.9zM70.22 26.20h0.9v0.8h-0.9zM73.90 26.20h0.9v0.8h-0.9zM77.58 26.20h0.9v0.8h-0.9zM81.26 26.20h0.9v0.8h-0.9zM84.94 26.20h0.9v0.8h-0.9zM88.62 26.20h0.9v0.8h-0.9zM2.14 28.05h0.9v0.8h-0.9zM5.82 28.05h0.9v0.8h-0.9zM9.50 28.05h0.9v0.8h-0.9zM13.18 28.05h0.9v0.8h-0.9zM16.86 28.05h0.9v0.8h-0.9zM20.54 28.05h0.9v0.8h-0.9zM24.22 28.05h0.9v0.8h-0.9zM27.90 28.05h0.9v0.8h-0.9zM31.58 28.05h0.9v0.8h-0.9zM35.26 28.05h0.9v0.8h-0.9zM38.94 28.05h0.9v0.8h-0.9zM42.62 28.05h0.9v0.8h-0.9zM46.30 28.05h0.9v0.8h-0.9zM49.98 28.05h0.9v0.8h-0.9zM53.66 28.05h0.9v0.8h-0.9zM57.34 28.05h0.9v0.8h-0.9zM61.02 28.05h0.9v0.8h-0.9zM64.70 28.05h0.9v0.8h-0.9zM68.38 28.05h0.9v0.8h-0.9zM72.06 28.05h0.9v0.8h-0.9zM75.74 28.05h0.9v0.8h-0.9zM79.42 28.05h0.9v0.8h-0.9zM83.10 28.05h0.9v0.8h-0.9zM86.78 28.05h0.9v0.8h-0.9zM90.46 28.05h0.9v0.8h-0.9zM0.30 29.90h0.9v0.8h-0.9zM3.98 29.90h0.9v0.8h-0.9zM7.66 29.90h0.9v0.8h-0.9zM11.34 29.90h0.9v0.8h-0.9zM15.02 29.90h0.9v0.8h-0.9zM18.70 29.90h0.9v0.8h-0.9zM22.38 29.90h0.9v0.8h-0.9zM26.06 29.90h0.9v0.8h-0.9zM29.74 29.90h0.9v0.8h-0.9zM33.42 29.90h0.9v0.8h-0.9zM37.10 29.90h0.9v0.8h-0.9zM40.78 29.90h0.9v0.8h-0.9zM44.46 29.90h0.9v0.8h-0.9zM48.14 29.90h0.9v0.8h-0.9zM51.82 29.90h0.9v0.8h-0.9zM55.50 29.90h0.9v0.8h-0.9zM59.18 29.90h0.9v0.8h-0.9zM62.86 29.90h0.9v0.8h-0.9zM66.54 29.90h0.9v0.8h-0.9zM70.22 29.90h0.9v0.8h-0.9zM73.90 29.90h0.9v0.8h-0.9zM77.58 29.90h0.9v0.8h-0.9zM81.26 29.90h0.9v0.8h-0.9zM84.94 29.90h0.9v0.8h-0.9zM88.62 29.90h0.9v0.8h-0.9zM2.14 31.75h0.9v0.8h-0.9zM5.82 31.75h0.9v0.8h-0.9zM9.50 31.75h0.9v0.8h-0.9zM13.18 31.75h0.9v0.8h-0.9zM16.86 31.75h0.9v0.8h-0.9zM20.54 31.75h0.9v0.8h-0.9zM24.22 31.75h0.9v0.8h-0.9zM27.90 31.75h0.9v0.8h-0.9zM31.58 31.75h0.9v0.8h-0.9zM35.26 31.75h0.9v0.8h-0.9zM38.94 31.75h0.9v0.8h-0.9zM42.62 31.75h0.9v0.8h-0.9zM46.30 31.75h0.9v0.8h-0.9zM49.98 31.75h0.9v0.8h-0.9zM53.66 31.75h0.9v0.8h-0.9zM57.34 31.75h0.9v0.8h-0.9zM61.02 31.75h0.9v0.8h-0.9zM64.70 31.75h0.9v0.8h-0.9zM68.38 31.75h0.9v0.8h-0.9zM72.06 31.75h0.9v0.8h-0.9zM75.74 31.75h0.9v0.8h-0.9zM79.42 31.75h0.9v0.8h-0.9zM83.10 31.75h0.9v0.8h-0.9zM86.78 31.75h0.9v0.8h-0.9zM90.46 31.75h0.9v0.8h-0.9zM0.30 33.60h0.9v0.8h-0.9zM3.98 33.60h0.9v0.8h-0.9zM7.66 33.60h0.9v0.8h-0.9zM11.34 33.60h0.9v0.8h-0.9zM15.02 33.60h0.9v0.8h-0.9zM18.70 33.60h0.9v0.8h-0.9zM22.38 33.60h0.9v0.8h-0.9zM26.06 33.60h0.9v0.8h-0.9zM29.74 33.60h0.9v0.8h-0.9zM33.42 33.60h0.9v0.8h-0.9zM37.10 33.60h0.9v0.8h-0.9zM40.78 33.60h0.9v0.8h-0.9zM44.46 33.60h0.9v0.8h-0.9zM48.14 33.60h0.9v0.8h-0.9zM51.82 33.60h0.9v0.8h-0.9zM55.50 33.60h0.9v0.8h-0.9zM59.18 33.60h0.9v0.8h-0.9zM62.86 33.60h0.9v0.8h-0.9zM66.54 33.60h0.9v0.8h-0.9zM70.22 33.60h0.9v0.8h-0.9zM73.90 33.60h0.9v0.8h-0.9zM77.58 33.60h0.9v0.8h-0.9zM81.26 33.60h0.9v0.8h-0.9zM84.94 33.60h0.9v0.8h-0.9zM88.62 33.60h0.9v0.8h-0.9zM2.14 35.45h0.9v0.8h-0.9zM5.82 35.45h0.9v0.8h-0.9zM9.50 35.45h0.9v0.8h-0.9zM13.18 35.45h0.9v0.8h-0.9zM16.86 35.45h0.9v0.8h-0.9zM20.54 35.45h0.9v0.8h-0.9zM24.22 35.45h0.9v0.8h-0.9zM27.90 35.45h0.9v0.8h-0.9zM31.58 35.45h0.9v0.8h-0.9zM35.26 35.45h0.9v0.8h-0.9zM38.94 35.45h0.9v0.8h-0.9zM42.62 35.45h0.9v0.8h-0.9zM46.30 35.45h0.9v0.8h-0.9zM49.98 35.45h0.9v0.8h-0.9zM53.66 35.45h0.9v0.8h-0.9zM57.34 35.45h0.9v0.8h-0.9zM61.02 35.45h0.9v0.8h-0.9zM64.70 35.45h0.9v0.8h-0.9zM68.38 35.45h0.9v0.8h-0.9zM72.06 35.45h0.9v0.8h-0.9zM75.74 35.45h0.9v0.8h-0.9zM79.42 35.45h0.9v0.8h-0.9zM83.10 35.45h0.9v0.8h-0.9zM86.78 35.45h0.9v0.8h-0.9zM90.46 35.45h0.9v0.8h-0.9zM0.30 37.30h0.9v0.8h-0.9zM3.98 37.30h0.9v0.8h-0.9zM7.66 37.30h0.9v0.8h-0.9zM11.34 37.30h0.9v0.8h-0.9zM15.02 37.30h0.9v0.8h-0.9zM18.70 37.30h0.9v0.8h-0.9zM22.38 37.30h0.9v0.8h-0.9zM26.06 37.30h0.9v0.8h-0.9zM29.74 37.30h0.9v0.8h-0.9zM33.42 37.30h0.9v0.8h-0.9zM37.10 37.30h0.9v0.8h-0.9zM40.78 37.30h0.9v0.8h-0.9zM44.46 37.30h0.9v0.8h-0.9zM48.14 37.30h0.9v0.8h-0.9zM51.82 37.30h0.9v0.8h-0.9zM55.50 37.30h0.9v0.8h-0.9zM59.18 37.30h0.9v0.8h-0.9zM62.86 37.30h0.9v0.8h-0.9zM66.54 37.30h0.9v0.8h-0.9zM70.22 37.30h0.9v0.8h-0.9zM73.90 37.30h0.9v0.8h-0.9zM77.58 37.30h0.9v0.8h-0.9zM81.26 37.30h0.9v0.8h-0.9zM84.94 37.30h0.9v0.8h-0.9zM88.62 37.30h0.9v0.8h-0.9zM2.14 39.15h0.9v0.8h-0.9zM5.82 39.15h0.9v0.8h-0.9zM9.50 39.15h0.9v0.8h-0.9zM13.18 39.15h0.9v0.8h-0.9zM16.86 39.15h0.9v0.8h-0.9zM20.54 39.15h0.9v0.8h-0.9zM24.22 39.15h0.9v0.8h-0.9zM27.90 39.15h0.9v0.8h-0.9zM31.58 39.15h0.9v0.8h-0.9zM35.26 39.15h0.9v0.8h-0.9zM38.94 39.15h0.9v0.8h-0.9zM42.62 39.15h0.9v0.8h-0.9zM46.30 39.15h0.9v0.8h-0.9zM49.98 39.15h0.9v0.8h-0.9zM53.66 39.15h0.9v0.8h-0.9zM57.34 39.15h0.9v0.8h-0.9zM61.02 39.15h0.9v0.8h-0.9zM64.70 39.15h0.9v0.8h-0.9zM68.38 39.15h0.9v0.8h-0.9zM72.06 39.15h0.9v0.8h-0.9zM75.74 39.15h0.9v0.8h-0.9zM79.42 39.15h0.9v0.8h-0.9zM83.10 39.15h0.9v0.8h-0.9zM86.78 39.15h0.9v0.8h-0.9zM90.46 39.15h0.9v0.8h-0.9zM0.30 41.00h0.9v0.8h-0.9zM3.98 41.00h0.9v0.8h-0.9zM7.66 41.00h0.9v0.8h-0.9zM11.34 41.00h0.9v0.8h-0.9zM15.02 41.00h0.9v0.8h-0.9zM18.70 41.00h0.9v0.8h-0.9zM22.38 41.00h0.9v0.8h-0.9zM26.06 41.00h0.9v0.8h-0.9zM29.74 41.00h0.9v0.8h-0.9zM33.42 41.00h0.9v0.8h-0.9zM37.10 41.00h0.9v0.8h-0.9zM40.78 41.00h0.9v0.8h-0.9zM44.46 41.00h0.9v0.8h-0.9zM48.14 41.00h0.9v0.8h-0.9zM51.82 41.00h0.9v0.8h-0.9zM55.50 41.00h0.9v0.8h-0.9zM59.18 41.00h0.9v0.8h-0.9zM62.86 41.00h0.9v0.8h-0.9zM66.54 41.00h0.9v0.8h-0.9zM70.22 41.00h0.9v0.8h-0.9zM73.90 41.00h0.9v0.8h-0.9zM77.58 41.00h0.9v0.8h-0.9zM81.26 41.00h0.9v0.8h-0.9zM84.94 41.00h0.9v0.8h-0.9zM88.62 41.00h0.9v0.8h-0.9zM2.14 42.85h0.9v0.8h-0.9zM5.82 42.85h0.9v0.8h-0.9zM9.50 42.85h0.9v0.8h-0.9zM13.18 42.85h0.9v0.8h-0.9zM16.86 42.85h0.9v0.8h-0.9zM20.54 42.85h0.9v0.8h-0.9zM24.22 42.85h0.9v0.8h-0.9zM27.90 42.85h0.9v0.8h-0.9zM31.58 42.85h0.9v0.8h-0.9zM35.26 42.85h0.9v0.8h-0.9zM38.94 42.85h0.9v0.8h-0.9zM42.62 42.85h0.9v0.8h-0.9zM46.30 42.85h0.9v0.8h-0.9zM49.98 42.85h0.9v0.8h-0.9zM53.66 42.85h0.9v0.8h-0.9zM57.34 42.85h0.9v0.8h-0.9zM61.02 42.85h0.9v0.8h-0.9zM64.70 42.85h0.9v0.8h-0.9zM68.38 42.85h0.9v0.8h-0.9zM72.06 42.85h0.9v0.8h-0.9zM75.74 42.85h0.9v0.8h-0.9zM79.42 42.85h0.9v0.8h-0.9zM83.10 42.85h0.9v0.8h-0.9zM86.78 42.85h0.9v0.8h-0.9zM90.46 42.85h0.9v0.8h-0.9zM0.30 44.70h0.9v0.8h-0.9zM3.98 44.70h0.9v0.8h-0.9zM7.66 44.70h0.9v0.8h-0.9zM11.34 44.70h0.9v0.8h-0.9zM15.02 44.70h0.9v0.8h-0.9zM18.70 44.70h0.9v0.8h-0.9zM22.38 44.70h0.9v0.8h-0.9zM26.06 44.70h0.9v0.8h-0.9zM29.74 44.70h0.9v0.8h-0.9zM33.42 44.70h0.9v0.8h-0.9zM37.10 44.70h0.9v0.8h-0.9zM40.78 44.70h0.9v0.8h-0.9zM44.46 44.70h0.9v0.8h-0.9zM48.14 44.70h0.9v0.8h-0.9zM51.82 44.70h0.9v0.8h-0.9zM55.50 44.70h0.9v0.8h-0.9zM59.18 44.70h0.9v0.8h-0.9zM62.86 44.70h0.9v0.8h-0.9zM66.54 44.70h0.9v0.8h-0.9zM70.22 44.70h0.9v0.8h-0.9zM73.90 44.70h0.9v0.8h-0.9zM77.58 44.70h0.9v0.8h-0.9zM81.26 44.70h0.9v0.8h-0.9zM84.94 44.70h0.9v0.8h-0.9zM88.62 44.70h0.9v0.8h-0.9zM2.14 46.55h0.9v0.8h-0.9zM5.82 46.55h0.9v0.8h-0.9zM9.50 46.55h0.9v0.8h-0.9zM13.18 46.55h0.9v0.8h-0.9zM16.86 46.55h0.9v0.8h-0.9zM20.54 46.55h0.9v0.8h-0.9zM24.22 46.55h0.9v0.8h-0.9zM27.90 46.55h0.9v0.8h-0.9zM31.58 46.55h0.9v0.8h-0.9zM35.26 46.55h0.9v0.8h-0.9zM38.94 46.55h0.9v0.8h-0.9zM42.62 46.55h0.9v0.8h-0.9zM46.30 46.55h0.9v0.8h-0.9zM49.98 46.55h0.9v0.8h-0.9zM53.66 46.55h0.9v0.8h-0.9zM57.34 46.55h0.9v0.8h-0.9zM61.02 46.55h0.9v0.8h-0.9zM64.70 46.55h0.9v0.8h-0.9zM68.38 46.55h0.9v0.8h-0.9zM72.06 46.55h0.9v0.8h-0.9zM75.74 46.55h0.9v0.8h-0.9zM79.42 46.55h0.9v0.8h-0.9zM83.10 46.55h0.9v0.8h-0.9zM86.78 46.55h0.9v0.8h-0.9zM90.46 46.55h0.9v0.8h-0.9zM0.30 48.40h0.9v0.8h-0.9zM3.98 48.40h0.9v0.8h-0.9zM7.66 48.40h0.9v0.8h-0.9zM11.34 48.40h0.9v0.8h-0.9zM15.02 48.40h0.9v0.8h-0.9zM18.70 48.40h0.9v0.8h-0.9zM22.38 48.40h0.9v0.8h-0.9zM26.06 48.40h0.9v0.8h-0.9zM29.74 48.40h0.9v0.8h-0.9zM33.42 48.40h0.9v0.8h-0.9zM37.10 48.40h0.9v0.8h-0.9zM40.78 48.40h0.9v0.8h-0.9zM44.46 48.40h0.9v0.8h-0.9zM48.14 48.40h0.9v0.8h-0.9zM51.82 48.40h0.9v0.8h-0.9zM55.50 48.40h0.9v0.8h-0.9zM59.18 48.40h0.9v0.8h-0.9zM62.86 48.40h0.9v0.8h-0.9zM66.54 48.40h0.9v0.8h-0.9zM70.22 48.40h0.9v0.8h-0.9zM73.90 48.40h0.9v0.8h-0.9zM77.58 48.40h0.9v0.8h-0.9zM81.26 48.40h0.9v0.8h-0.9zM84.94 48.40h0.9v0.8h-0.9zM88.62 48.40h0.9v0.8h-0.9zM2.14 50.25h0.9v0.8h-0.9zM5.82 50.25h0.9v0.8h-0.9zM9.50 50.25h0.9v0.8h-0.9zM13.18 50.25h0.9v0.8h-0.9zM16.86 50.25h0.9v0.8h-0.9zM20.54 50.25h0.9v0.8h-0.9zM24.22 50.25h0.9v0.8h-0.9zM27.90 50.25h0.9v0.8h-0.9zM31.58 50.25h0.9v0.8h-0.9zM35.26 50.25h0.9v0.8h-0.9zM38.94 50.25h0.9v0.8h-0.9zM42.62 50.25h0.9v0.8h-0.9zM46.30 50.25h0.9v0.8h-0.9zM49.98 50.25h0.9v0.8h-0.9zM53.66 50.25h0.9v0.8h-0.9zM57.34 50.25h0.9v0.8h-0.9zM61.02 50.25h0.9v0.8h-0.9zM64.70 50.25h0.9v0.8h-0.9zM68.38 50.25h0.9v0.8h-0.9zM72.06 50.25h0.9v0.8h-0.9zM75.74 50.25h0.9v0.8h-0.9zM79.42 50.25h0.9v0.8h-0.9zM83.10 50.25h0.9v0.8h-0.9zM86.78 50.25h0.9v0.8h-0.9zM90.46 50.25h0.9v0.8h-0.9zM0.30 52.10h0.9v0.8h-0.9zM3.98 52.10h0.9v0.8h-0.9zM7.66 52.10h0.9v0.8h-0.9zM11.34 52.10h0.9v0.8h-0.9zM15.02 52.10h0.9v0.8h-0.9zM18.70 52.10h0.9v0.8h-0.9zM22.38 52.10h0.9v0.8h-0.9zM26.06 52.10h0.9v0.8h-0.9zM29.74 52.10h0.9v0.8h-0.9zM33.42 52.10h0.9v0.8h-0.9zM37.10 52.10h0.9v0.8h-0.9zM40.78 52.10h0.9v0.8h-0.9zM44.46 52.10h0.9v0.8h-0.9zM48.14 52.10h0.9v0.8h-0.9zM51.82 52.10h0.9v0.8h-0.9zM55.50 52.10h0.9v0.8h-0.9zM59.18 52.10h0.9v0.8h-0.9zM62.86 52.10h0.9v0.8h-0.9zM66.54 52.10h0.9v0.8h-0.9zM70.22 52.10h0.9v0.8h-0.9zM73.90 52.10h0.9v0.8h-0.9zM77.58 52.10h0.9v0.8h-0.9zM81.26 52.10h0.9v0.8h-0.9zM84.94 52.10h0.9v0.8h-0.9zM88.62 52.10h0.9v0.8h-0.9zM2.14 53.95h0.9v0.8h-0.9zM5.82 53.95h0.9v0.8h-0.9zM9.50 53.95h0.9v0.8h-0.9zM13.18 53.95h0.9v0.8h-0.9zM16.86 53.95h0.9v0.8h-0.9zM20.54 53.95h0.9v0.8h-0.9zM24.22 53.95h0.9v0.8h-0.9zM27.90 53.95h0.9v0.8h-0.9zM31.58 53.95h0.9v0.8h-0.9zM35.26 53.95h0.9v0.8h-0.9zM38.94 53.95h0.9v0.8h-0.9zM42.62 53.95h0.9v0.8h-0.9zM46.30 53.95h0.9v0.8h-0.9zM49.98 53.95h0.9v0.8h-0.9zM53.66 53.95h0.9v0.8h-0.9zM57.34 53.95h0.9v0.8h-0.9zM61.02 53.95h0.9v0.8h-0.9zM64.70 53.95h0.9v0.8h-0.9zM68.38 53.95h0.9v0.8h-0.9zM72.06 53.95h0.9v0.8h-0.9zM75.74 53.95h0.9v0.8h-0.9zM79.42 53.95h0.9v0.8h-0.9zM83.10 53.95h0.9v0.8h-0.9zM86.78 53.95h0.9v0.8h-0.9zM90.46 53.95h0.9v0.8h-0.9zM0.30 55.80h0.9v0.8h-0.9zM3.98 55.80h0.9v0.8h-0.9zM7.66 55.80h0.9v0.8h-0.9zM11.34 55.80h0.9v0.8h-0.9zM15.02 55.80h0.9v0.8h-0.9zM18.70 55.80h0.9v0.8h-0.9zM22.38 55.80h0.9v0.8h-0.9zM26.06 55.80h0.9v0.8h-0.9zM29.74 55.80h0.9v0.8h-0.9zM33.42 55.80h0.9v0.8h-0.9zM37.10 55.80h0.9v0.8h-0.9zM40.78 55.80h0.9v0.8h-0.9zM44.46 55.80h0.9v0.8h-0.9zM48.14 55.80h0.9v0.8h-0.9zM51.82 55.80h0.9v0.8h-0.9zM55.50 55.80h0.9v0.8h-0.9zM59.18 55.80h0.9v0.8h-0.9zM62.86 55.80h0.9v0.8h-0.9zM66.54 55.80h0.9v0.8h-0.9zM70.22 55.80h0.9v0.8h-0.9zM73.90 55.80h0.9v0.8h-0.9zM77.58 55.80h0.9v0.8h-0.9zM81.26 55.80h0.9v0.8h-0.9zM84.94 55.80h0.9v0.8h-0.9zM88.62 55.80h0.9v0.8h-0.9zM2.14 57.65h0.9v0.8h-0.9zM5.82 57.65h0.9v0.8h-0.9zM9.50 57.65h0.9v0.8h-0.9zM13.18 57.65h0.9v0.8h-0.9zM16.86 57.65h0.9v0.8h-0.9zM20.54 57.65h0.9v0.8h-0.9zM24.22 57.65h0.9v0.8h-0.9zM27.90 57.65h0.9v0.8h-0.9zM31.58 57.65h0.9v0.8h-0.9zM35.26 57.65h0.9v0.8h-0.9zM38.94 57.65h0.9v0.8h-0.9zM42.62 57.65h0.9v0.8h-0.9zM46.30 57.65h0.9v0.8h-0.9zM49.98 57.65h0.9v0.8h-0.9zM53.66 57.65h0.9v0.8h-0.9zM57.34 57.65h0.9v0.8h-0.9zM61.02 57.65h0.9v0.8h-0.9zM64.70 57.65h0.9v0.8h-0.9zM68.38 57.65h0.9v0.8h-0.9zM72.06 57.65h0.9v0.8h-0.9zM75.74 57.65h0.9v0.8h-0.9zM79.42 57.65h0.9v0.8h-0.9zM83.10 57.65h0.9v0.8h-0.9zM86.78 57.65h0.9v0.8h-0.9zM90.46 57.65h0.9v0.8h-0.9zM0.30 59.50h0.9v0.8h-0.9zM3.98 59.50h0.9v0.8h-0.9zM7.66 59.50h0.9v0.8h-0.9zM11.34 59.50h0.9v0.8h-0.9zM15.02 59.50h0.9v0.8h-0.9zM18.70 59.50h0.9v0.8h-0.9zM22.38 59.50h0.9v0.8h-0.9zM26.06 59.50h0.9v0.8h-0.9zM29.74 59.50h0.9v0.8h-0.9zM33.42 59.50h0.9v0.8h-0.9zM37.10 59.50h0.9v0.8h-0.9zM40.78 59.50h0.9v0.8h-0.9zM44.46 59.50h0.9v0.8h-0.9zM48.14 59.50h0.9v0.8h-0.9zM51.82 59.50h0.9v0.8h-0.9zM55.50 59.50h0.9v0.8h-0.9zM59.18 59.50h0.9v0.8h-0.9zM62.86 59.50h0.9v0.8h-0.9zM66.54 59.50h0.9v0.8h-0.9zM70.22 59.50h0.9v0.8h-0.9zM73.90 59.50h0.9v0.8h-0.9zM77.58 59.50h0.9v0.8h-0.9zM81.26 59.50h0.9v0.8h-0.9zM84.94 59.50h0.9v0.8h-0.9zM88.62 59.50h0.9v0.8h-0.9zM2.14 61.35h0.9v0.8h-0.9zM5.82 61.35h0.9v0.8h-0.9zM9.50 61.35h0.9v0.8h-0.9zM13.18 61.35h0.9v0.8h-0.9zM16.86 61.35h0.9v0.8h-0.9zM20.54 61.35h0.9v0.8h-0.9zM24.22 61.35h0.9v0.8h-0.9zM27.90 61.35h0.9v0.8h-0.9zM31.58 61.35h0.9v0.8h-0.9zM35.26 61.35h0.9v0.8h-0.9zM38.94 61.35h0.9v0.8h-0.9zM42.62 61.35h0.9v0.8h-0.9zM46.30 61.35h0.9v0.8h-0.9zM49.98 61.35h0.9v0.8h-0.9zM53.66 61.35h0.9v0.8h-0.9zM57.34 61.35h0.9v0.8h-0.9zM61.02 61.35h0.9v0.8h-0.9zM64.70 61.35h0.9v0.8h-0.9zM68.38 61.35h0.9v0.8h-0.9zM72.06 61.35h0.9v0.8h-0.9zM75.74 61.35h0.9v0.8h-0.9zM79.42 61.35h0.9v0.8h-0.9zM83.10 61.35h0.9v0.8h-0.9zM86.78 61.35h0.9v0.8h-0.9zM90.46 61.35h0.9v0.8h-0.9zM0.30 63.20h0.9v0.8h-0.9zM3.98 63.20h0.9v0.8h-0.9zM7.66 63.20h0.9v0.8h-0.9zM11.34 63.20h0.9v0.8h-0.9zM15.02 63.20h0.9v0.8h-0.9zM18.70 63.20h0.9v0.8h-0.9zM22.38 63.20h0.9v0.8h-0.9zM26.06 63.20h0.9v0.8h-0.9zM29.74 63.20h0.9v0.8h-0.9zM33.42 63.20h0.9v0.8h-0.9zM37.10 63.20h0.9v0.8h-0.9zM40.78 63.20h0.9v0.8h-0.9zM44.46 63.20h0.9v0.8h-0.9zM48.14 63.20h0.9v0.8h-0.9zM51.82 63.20h0.9v0.8h-0.9zM55.50 63.20h0.9v0.8h-0.9zM59.18 63.20h0.9v0.8h-0.9zM62.86 63.20h0.9v0.8h-0.9zM66.54 63.20h0.9v0.8h-0.9zM70.22 63.20h0.9v0.8h-0.9zM73.90 63.20h0.9v0.8h-0.9zM77.58 63.20h0.9v0.8h-0.9zM81.26 63.20h0.9v0.8h-0.9zM84.94 63.20h0.9v0.8h-0.9zM88.62 63.20h0.9v0.8h-0.9zM2.14 65.05h0.9v0.8h-0.9zM5.82 65.05h0.9v0.8h-0.9zM9.50 65.05h0.9v0.8h-0.9zM13.18 65.05h0.9v0.8h-0.9zM16.86 65.05h0.9v0.8h-0.9zM20.54 65.05h0.9v0.8h-0.9zM24.22 65.05h0.9v0.8h-0.9zM27.90 65.05h0.9v0.8h-0.9zM31.58 65.05h0.9v0.8h-0.9zM35.26 65.05h0.9v0.8h-0.9zM38.94 65.05h0.9v0.8h-0.9zM42.62 65.05h0.9v0.8h-0.9zM46.30 65.05h0.9v0.8h-0.9zM49.98 65.05h0.9v0.8h-0.9zM53.66 65.05h0.9v0.8h-0.9zM57.34 65.05h0.9v0.8h-0.9zM61.02 65.05h0.9v0.8h-0.9zM64.70 65.05h0.9v0.8h-0.9zM68.38 65.05h0.9v0.8h-0.9zM72.06 65.05h0.9v0.8h-0.9zM75.74 65.05h0.9v0.8h-0.9zM79.42 65.05h0.9v0.8h-0.9zM83.10 65.05h0.9v0.8h-0.9zM86.78 65.05h0.9v0.8h-0.9zM90.46 65.05h0.9v0.8h-0.9zM0.30 66.90h0.9v0.8h-0.9zM3.98 66.90h0.9v0.8h-0.9zM7.66 66.90h0.9v0.8h-0.9zM11.34 66.90h0.9v0.8h-0.9zM15.02 66.90h0.9v0.8h-0.9zM18.70 66.90h0.9v0.8h-0.9zM22.38 66.90h0.9v0.8h-0.9zM26.06 66.90h0.9v0.8h-0.9zM29.74 66.90h0.9v0.8h-0.9zM33.42 66.90h0.9v0.8h-0.9zM37.10 66.90h0.9v0.8h-0.9zM40.78 66.90h0.9v0.8h-0.9zM44.46 66.90h0.9v0.8h-0.9zM48.14 66.90h0.9v0.8h-0.9zM51.82 66.90h0.9v0.8h-0.9zM55.50 66.90h0.9v0.8h-0.9zM59.18 66.90h0.9v0.8h-0.9zM62.86 66.90h0.9v0.8h-0.9zM66.54 66.90h0.9v0.8h-0.9zM70.22 66.90h0.9v0.8h-0.9zM73.90 66.90h0.9v0.8h-0.9zM77.58 66.90h0.9v0.8h-0.9zM81.26 66.90h0.9v0.8h-0.9zM84.94 66.90h0.9v0.8h-0.9zM88.62 66.90h0.9v0.8h-0.9zM2.14 68.75h0.9v0.8h-0.9zM5.82 68.75h0.9v0.8h-0.9zM9.50 68.75h0.9v0.8h-0.9zM13.18 68.75h0.9v0.8h-0.9zM16.86 68.75h0.9v0.8h-0.9zM20.54 68.75h0.9v0.8h-0.9zM24.22 68.75h0.9v0.8h-0.9zM27.90 68.75h0.9v0.8h-0.9zM31.58 68.75h0.9v0.8h-0.9zM35.26 68.75h0.9v0.8h-0.9zM38.94 68.75h0.9v0.8h-0.9zM42.62 68.75h0.9v0.8h-0.9zM46.30 68.75h0.9v0.8h-0.9zM49.98 68.75h0.9v0.8h-0.9zM53.66 68.75h0.9v0.8h-0.9zM57.34 68.75h0.9v0.8h-0.9zM61.02 68.75h0.9v0.8h-0.9zM64.70 68.75h0.9v0.8h-0.9zM68.38 68.75h0.9v0.8h-0.9zM72.06 68.75h0.9v0.8h-0.9zM75.74 68.75h0.9v0.8h-0.9zM79.42 68.75h0.9v0.8h-0.9zM83.10 68.75h0.9v0.8h-0.9zM86.78 68.75h0.9v0.8h-0.9zM90.46 68.75h0.9v0.8h-0.9zM0.30 70.60h0.9v0.8h-0.9zM3.98 70.60h0.9v0.8h-0.9zM7.66 70.60h0.9v0.8h-0.9zM11.34 70.60h0.9v0.8h-0.9zM15.02 70.60h0.9v0.8h-0.9zM18.70 70.60h0.9v0.8h-0.9zM22.38 70.60h0.9v0.8h-0.9zM26.06 70.60h0.9v0.8h-0.9zM29.74 70.60h0.9v0.8h-0.9zM33.42 70.60h0.9v0.8h-0.9zM37.10 70.60h0.9v0.8h-0.9zM40.78 70.60h0.9v0.8h-0.9zM44.46 70.60h0.9v0.8h-0.9zM48.14 70.60h0.9v0.8h-0.9zM51.82 70.60h0.9v0.8h-0.9zM55.50 70.60h0.9v0.8h-0.9zM59.18 70.60h0.9v0.8h-0.9zM62.86 70.60h0.9v0.8h-0.9zM66.54 70.60h0.9v0.8h-0.9zM70.22 70.60h0.9v0.8h-0.9zM73.90 70.60h0.9v0.8h-0.9zM77.58 70.60h0.9v0.8h-0.9zM81.26 70.60h0.9v0.8h-0.9zM84.94 70.60h0.9v0.8h-0.9zM88.62 70.60h0.9v0.8h-0.9zM2.14 72.45h0.9v0.8h-0.9zM5.82 72.45h0.9v0.8h-0.9zM9.50 72.45h0.9v0.8h-0.9zM13.18 72.45h0.9v0.8h-0.9zM16.86 72.45h0.9v0.8h-0.9zM20.54 72.45h0.9v0.8h-0.9zM24.22 72.45h0.9v0.8h-0.9zM27.90 72.45h0.9v0.8h-0.9zM31.58 72.45h0.9v0.8h-0.9zM35.26 72.45h0.9v0.8h-0.9zM38.94 72.45h0.9v0.8h-0.9zM42.62 72.45h0.9v0.8h-0.9zM46.30 72.45h0.9v0.8h-0.9zM49.98 72.45h0.9v0.8h-0.9zM53.66 72.45h0.9v0.8h-0.9zM57.34 72.45h0.9v0.8h-0.9zM61.02 72.45h0.9v0.8h-0.9zM64.70 72.45h0.9v0.8h-0.9zM68.38 72.45h0.9v0.8h-0.9zM72.06 72.45h0.9v0.8h-0.9zM75.74 72.45h0.9v0.8h-0.9zM79.42 72.45h0.9v0.8h-0.9zM83.10 72.45h0.9v0.8h-0.9zM86.78 72.45h0.9v0.8h-0.9zM90.46 72.45h0.9v0.8h-0.9z"/></pattern>
</defs>
<rect width="959" height="536" fill="#fff"/>

<!-- prism 1 -->
<polygon points="84.3,140 267.7,140 267.7,321.7" fill="url(#dots)"/>
<polyline points="84.3,140 267.7,140 267.7,321.7" fill="none" stroke="#000" stroke-width="1.5" stroke-linejoin="round" stroke-linecap="round"/>
<line x1="84.3" y1="140" x2="267.7" y2="321.7" stroke="#000" stroke-width="2.1" stroke-linecap="round"/>

<!-- lens system -->
<rect x="320" y="140" width="170.7" height="20" fill="url(#dots)"/>
<rect x="320" y="300.5" width="170.7" height="20" fill="url(#dots)"/>
<g fill="url(#dotsl)" stroke="#2a2a2a" stroke-width="0.9" stroke-dasharray="1.3 1.7">
<ellipse cx="334.5" cy="230.25" rx="11.9" ry="70.25"/>
<ellipse cx="383.5" cy="230.25" rx="12.2" ry="70.25"/>
<ellipse cx="412.4" cy="230.25" rx="12" ry="70.25"/>
<ellipse cx="439.2" cy="230.25" rx="12.1" ry="70.25" fill="none"/>
<ellipse cx="469.6" cy="230.25" rx="12.1" ry="70.25"/>
</g>
<rect x="320" y="140" width="170.7" height="180.5" fill="none" stroke="#000" stroke-width="1.6"/>
<line x1="320" y1="160" x2="490.7" y2="160" stroke="#000" stroke-width="1"/>
<line x1="320" y1="300.5" x2="490.7" y2="300.5" stroke="#000" stroke-width="1"/>
<line x1="323.75" y1="160" x2="323.75" y2="177.5" stroke="#000" stroke-width="2.2"/>
<line x1="323.75" y1="283" x2="323.75" y2="300.5" stroke="#000" stroke-width="2.2"/>
<rect x="341.5" y="320.5" width="128" height="21.7" fill="#fff" stroke="#000" stroke-width="1.4"/>

<!-- prism 2 -->
<polygon points="660.5,165.5 660.5,299.5 792.5,299.5" fill="url(#dots)"/>
<line x1="660.5" y1="165.5" x2="792.5" y2="299.5" stroke="#000" stroke-width="2"/>
<polyline points="660.5,165.5 660.5,299.5 792.5,299.5" fill="none" stroke="#000" stroke-width="1.5" stroke-dasharray="9.5 4.9" stroke-dashoffset="2.4"/>

<!-- IR filter and sensor -->
<rect x="645.5" y="343" width="162.75" height="7.5" fill="#fff" stroke="#000" stroke-width="1.3"/>
<rect x="645.5" y="363" width="163" height="21.3" fill="#fff" stroke="#000" stroke-width="1.6"/>

<!-- axes dashed -->
<line x1="177.4" y1="96.3" x2="177.4" y2="233.5" stroke="#000" stroke-width="1.15" stroke-dasharray="4.4 2.7"/>
<line x1="177.4" y1="233.5" x2="727.4" y2="233.5" stroke="#000" stroke-width="1.15" stroke-dasharray="4.4 2.7"/>
<line x1="727.4" y1="233.5" x2="727.4" y2="362" stroke="#000" stroke-width="1.15" stroke-dasharray="4.4 2.7"/>

<!-- z axis -->
<line x1="53.75" y1="139.5" x2="53.75" y2="385" stroke="#000" stroke-width="1.5" stroke-dasharray="1.6 0.8"/>
<polyline points="49.5,377.5 53.75,385.5 57.75,377.5" fill="none" stroke="#000" stroke-width="1.1"/>
<line x1="70.6" y1="148" x2="70.6" y2="375" stroke="#444" stroke-width="0.8" stroke-dasharray="2.5 1.5"/>
<line x1="63.75" y1="140" x2="77.5" y2="140" stroke="#222" stroke-width="1" stroke-dasharray="1.5 1"/>
<polygon points="70.8,141 67.3,150.5 74.4,150.5" fill="#000"/>
<polygon points="70.6,383 67.4,374.5 74,374.5" fill="#000"/>
<line x1="63.75" y1="384.2" x2="78" y2="384.2" stroke="#000" stroke-width="1.1"/>

<!-- length -->
<line x1="96" y1="406" x2="799" y2="406" stroke="#666" stroke-width="1.2" stroke-dasharray="1.5 1.5"/>
<line x1="85.5" y1="398.5" x2="85.5" y2="413" stroke="#111" stroke-width="1" stroke-dasharray="1.6 1"/>
<polygon points="87.2,405.7 96.4,402.5 96.4,408.9" fill="#000"/>
<line x1="809.5" y1="399.5" x2="809.5" y2="412.5" stroke="#111" stroke-width="1" stroke-dasharray="1.6 1"/>
<polygon points="808.6,405.7 799.4,402.5 799.4,408.9" fill="#000"/>

<!-- 100 curved arrow -->
<path d="M90,45.3 C90.5,52 97,53.5 104.5,57.5" fill="none" stroke="#000" stroke-width="1.1" stroke-dasharray="3 1.5"/>
<polygon points="106.8,64.5 102.3,58.9 108.8,57.6" fill="#000"/>

<line x1="190" y1="295" x2="209.33" y2="272.55" stroke="#000" stroke-width="1.1"/><polygon points="213.25,268.00 210.58,274.94 206.79,271.67" fill="#000"/>
<line x1="424.2" y1="118.6" x2="417.33" y2="135.05" stroke="#000" stroke-width="1.1" stroke-dasharray="3 1.5"/><polygon points="415.60,139.20 415.23,133.08 420.21,135.16" fill="#000"/>
<line x1="305.2" y1="154.5" x2="318.77" y2="165.11" stroke="#000" stroke-width="1.1"/><polygon points="323.50,168.80 316.44,166.46 319.52,162.52" fill="#000"/>
<line x1="518.75" y1="144.5" x2="474.85" y2="176.47" stroke="#000" stroke-width="1.1"/><polygon points="470.00,180.00 474.19,173.86 477.13,177.90" fill="#000"/>
<line x1="743.75" y1="194.5" x2="723.53" y2="216.80" stroke="#000" stroke-width="1.1"/><polygon points="719.50,221.25 722.35,214.38 726.05,217.74" fill="#000"/>
<line x1="822.5" y1="329.5" x2="813.11" y2="338.38" stroke="#000" stroke-width="1.1"/><polygon points="808.75,342.50 812.12,335.87 815.55,339.51" fill="#000"/>
<line x1="839.75" y1="362.5" x2="815.50" y2="362.50" stroke="#000" stroke-width="1.1" stroke-dasharray="3 1.5"/><polygon points="809.50,362.50 816.50,360.00 816.50,365.00" fill="#000"/>
<line x1="831.5" y1="400.5" x2="814.64" y2="384.83" stroke="#000" stroke-width="1.1"/><polygon points="810.25,380.75 817.08,383.68 813.68,387.35" fill="#000"/>
<g stroke="#000" stroke-width="0.25">
<text x="81" y="39" font-size="18" textLength="21.50" lengthAdjust="spacingAndGlyphs">100</text>
<text x="233.7" y="52.8" font-size="15" textLength="36.40" lengthAdjust="spacingAndGlyphs">object</text>
<text x="239.9" y="70" font-size="15" textLength="24.30" lengthAdjust="spacingAndGlyphs">side</text>
<text x="161" y="78.7" font-size="13" textLength="34.00" lengthAdjust="spacingAndGlyphs">optical</text>
<text x="167.7" y="93" font-size="13" textLength="21.00" lengthAdjust="spacingAndGlyphs">axis</text>
<text x="143" y="176.5" font-size="13" textLength="31.50" lengthAdjust="spacingAndGlyphs">(AX 1)</text>
<text x="220.5" y="227.2" font-size="13" textLength="32.50" lengthAdjust="spacingAndGlyphs">(AX 2)</text>
<text x="18.75" y="261.25" font-size="13" textLength="29.35" lengthAdjust="spacingAndGlyphs">z axis</text>
<text x="173.75" y="308.8" font-size="13" textLength="17.50" lengthAdjust="spacingAndGlyphs">141</text>
<text x="152.5" y="323.25" font-size="13" textLength="58.75" lengthAdjust="spacingAndGlyphs">light folding</text>
<text x="155" y="337.5" font-size="13" textLength="53.75" lengthAdjust="spacingAndGlyphs">element(1)</text>
<text x="164.25" y="351" font-size="13" textLength="35.75" lengthAdjust="spacingAndGlyphs">(prism)</text>
<text x="418" y="86.25" font-size="13" textLength="21.50" lengthAdjust="spacingAndGlyphs">lens</text>
<text x="410.75" y="100" font-size="13" textLength="36.25" lengthAdjust="spacingAndGlyphs">system</text>
<text x="420" y="113.75" font-size="13" textLength="18.75" lengthAdjust="spacingAndGlyphs">110</text>
<text x="281.25" y="139" font-size="13" textLength="20.75" lengthAdjust="spacingAndGlyphs">stop</text>
<text x="283" y="153" font-size="13" textLength="18.25" lengthAdjust="spacingAndGlyphs">130</text>
<text x="519.5" y="114.25" font-size="13" textLength="21.75" lengthAdjust="spacingAndGlyphs">lens</text>
<text x="517" y="128" font-size="13" textLength="26.75" lengthAdjust="spacingAndGlyphs">stack</text>
<text x="521.25" y="141.25" font-size="13" textLength="18.75" lengthAdjust="spacingAndGlyphs">114</text>
<text x="734.25" y="159.5" font-size="13" textLength="58.25" lengthAdjust="spacingAndGlyphs">light folding</text>
<text x="736.25" y="173.75" font-size="13" textLength="54.50" lengthAdjust="spacingAndGlyphs">element(2)</text>
<text x="721.75" y="187.5" font-size="13" textLength="82.50" lengthAdjust="spacingAndGlyphs">(prism or mirror)</text>
<text x="754.25" y="202.5" font-size="13" textLength="17.50" lengthAdjust="spacingAndGlyphs">142</text>
<text x="730.5" y="323.75" font-size="13" textLength="32.00" lengthAdjust="spacingAndGlyphs">(AX 3)</text>
<text x="812.5" y="312.5" font-size="13" textLength="36.25" lengthAdjust="spacingAndGlyphs">IR filter</text>
<text x="821.25" y="326.25" font-size="13" textLength="18.75" lengthAdjust="spacingAndGlyphs">150</text>
<text x="844.75" y="348.75" font-size="13" textLength="31.75" lengthAdjust="spacingAndGlyphs">image</text>
<text x="846" y="362.5" font-size="13" textLength="28.50" lengthAdjust="spacingAndGlyphs">plane</text>
<text x="851.5" y="376.75" font-size="13" textLength="18.75" lengthAdjust="spacingAndGlyphs">121</text>
<text x="834" y="410.5" font-size="13" textLength="19.25" lengthAdjust="spacingAndGlyphs">120</text>
<text x="811" y="424.5" font-size="13" textLength="65.00" lengthAdjust="spacingAndGlyphs">photosensor</text>
<text x="431.25" y="423" font-size="15" textLength="37.50" lengthAdjust="spacingAndGlyphs">length</text>
<text x="691.25" y="452" font-size="15" textLength="37.50" lengthAdjust="spacingAndGlyphs">image</text>
<text x="698" y="468.75" font-size="15" textLength="24.50" lengthAdjust="spacingAndGlyphs">side</text>
<text x="331.75" y="153" font-size="13" textLength="52.00" lengthAdjust="spacingAndGlyphs">barrel 112</text>
<text x="331.75" y="313.75" font-size="13" textLength="52.00" lengthAdjust="spacingAndGlyphs">barrel 112</text>
<text x="372.5" y="335.75" font-size="13" textLength="64.50" lengthAdjust="spacingAndGlyphs">actuator 160</text>
</g>
<!-- underlines -->
<line x1="367.5" y1="155.5" x2="383.75" y2="155.5" stroke="#000" stroke-width="1.1"/>
<line x1="367.5" y1="316.3" x2="383.75" y2="316.3" stroke="#000" stroke-width="1.2"/>
<line x1="419" y1="338.3" x2="437" y2="338.3" stroke="#000" stroke-width="1.2"/>
</svg>
</body></html>
